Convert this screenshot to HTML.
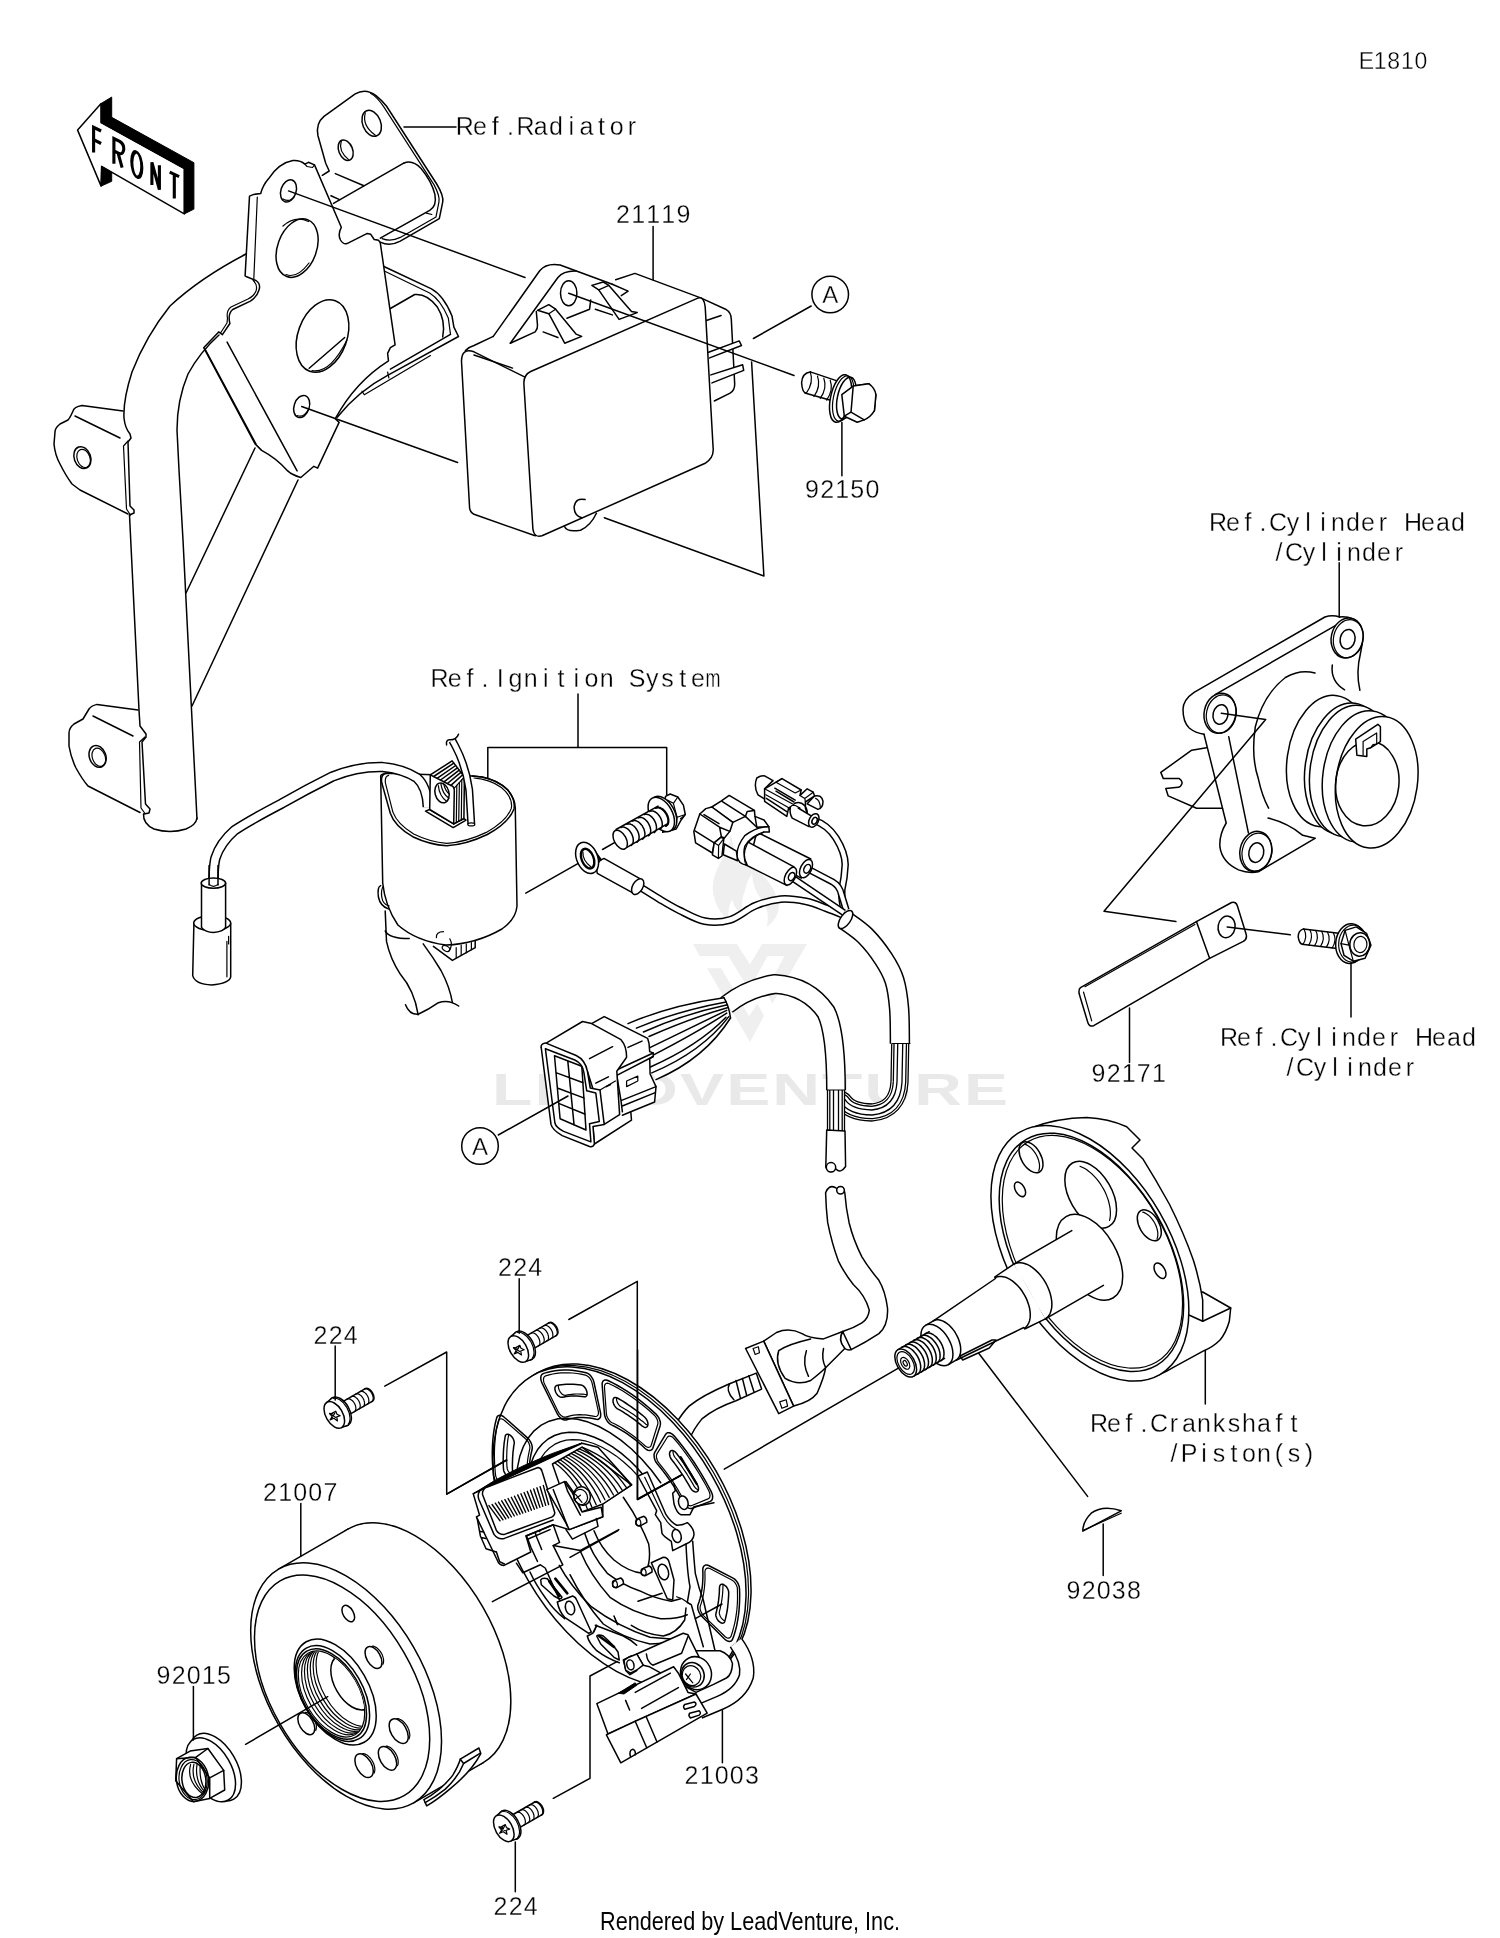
<!DOCTYPE html>
<html><head><meta charset="utf-8"><title>E1810</title>
<style>
html,body{margin:0;padding:0;background:#fff;}
svg{display:block;will-change:transform;}
.l{fill:none;stroke:#000;stroke-width:1.5;stroke-linecap:round;stroke-linejoin:round;}
.lt{fill:none;stroke:#000;stroke-width:1.2;stroke-linecap:round;stroke-linejoin:round;}
.w{fill:#fff;stroke:#000;stroke-width:1.5;stroke-linecap:round;stroke-linejoin:round;}
.wt{fill:#fff;stroke:#000;stroke-width:1.2;stroke-linecap:round;stroke-linejoin:round;}
.k{fill:#000;stroke:#000;stroke-width:1;stroke-linejoin:round;}
.t{font-family:"Liberation Sans",sans-serif;fill:#000;text-anchor:middle;stroke:#fff;stroke-width:0.3px;}
.tb{font-family:"Liberation Sans",sans-serif;fill:#000;}
.wm{fill:#ebebeb;stroke:none;}
</style></head><body>
<svg width="1500" height="1938" viewBox="0 0 1500 1938">
<rect x="0" y="0" width="1500" height="1938" fill="#fff"/>
<g transform="translate(492,1105) scale(1.5,1)"><text x="0" y="0" font-family="Liberation Sans, sans-serif" font-weight="bold" font-size="44" fill="#e9e9e9" textLength="344" lengthAdjust="spacing">LEADVENTURE</text></g>
<path fill="#efefef" d="M693.1,944 L736.9,944 L750,964.5 L762.1,944 L806.9,944 L772.4,1003.7 L765.9,990.7 L784.5,956.1 L767.7,956.1 L749.1,989.7 L728.5,956.1 L699.6,956.1 Z"/>
<path fill="#efefef" d="M707.1,968.3 L721.1,968.3 L749.1,1015.9 L757.5,1003.7 L764,1015.9 L750,1042 Z"/>
<path fill="#efefef" d="M730.7,834.0Q729.3,850.0 720.0,863.3Q710.7,880.7 713.3,894.0Q716.0,910.0 729.3,922.0Q726.7,910.0 732.0,899.3Q734.7,910.0 742.7,915.3Q740.0,902.0 745.3,890.0Q746.7,880.7 752.0,874.0Q753.3,890.0 761.3,899.3Q770.7,910.0 766.7,927.3Q780.0,916.7 778.7,904.7Q776.0,887.3 761.3,874.0Q748.0,860.7 745.3,848.7Q740.0,854.0 734.7,856.7Q733.3,843.3 730.7,834.0Z"/>
<path class="w" d="M77.6,130.1L101.1,103.5L101.1,122.7L184.3,168.5L184.3,213.9L101.6,166.4L101.1,186.1Z"/>
<path class="k" d="M101.1,103.5L111.7,97.1L111.7,117.3L193.9,162.7L193.9,209.1L184.3,213.9L184.3,168.5L101.1,122.7Z"/>
<path class="k" d="M101.6,166.4L111.7,172.3L111.7,181.3L101.1,186.1Z"/>
<path class="l" d="M101.1,131.0L93.6,127.3L93.6,152.5M93.6,139.7L101.1,143.5" style="stroke-width:3.1;stroke-linecap:butt;stroke-linejoin:miter"/>
<path class="l" d="M113.9,163.7L113.9,138.5L119.7,141.4Q124.0,144.0 123.8,149.3Q123.1,154.7 119.2,153.6L113.9,150.9M118.1,153.2L122.1,167.7" style="stroke-width:3.1;stroke-linecap:butt;stroke-linejoin:miter"/>
<ellipse class="l" style="stroke-width:3.1;stroke-linecap:butt;stroke-linejoin:miter" cx="0" cy="0" rx="5" ry="12.4" transform="matrix(1,0.55,0,1,136.8,164.6)"/>
<path class="l" d="M151.9,185.1L151.9,162.3L159.4,189.7L159.4,165.3" style="stroke-width:3.1;stroke-linecap:butt;stroke-linejoin:miter"/>
<path class="l" d="M169.7,172.2L179.1,176.6M174.3,174.3L174.3,198.6" style="stroke-width:3.1;stroke-linecap:butt;stroke-linejoin:miter"/>
<path class="l" d="M322.3,175.3L329.2,171.0L325.7,163.2L317.9,135.5Q315.7,123.3 324.0,116.4L355.2,93.9Q365.6,87.8 376.0,95.6Q382.1,100.5 386.4,106.0L436.7,184.0Q444.0,196.1 442.7,202.2L439.3,218.7L400.3,241.2Q389.9,246.8 380.3,242.1L376.0,239.8"/>
<path class="lt" d="M370.5,93.2Q376.9,96.5 383.8,106.9L434.1,184.9Q440.1,196.1 438.9,202.2L436.0,216.9L400.3,237.4Q390.7,242.1 382.1,238.6"/>
<ellipse class="l" cx="371.7" cy="123.3" rx="9.0" ry="13.5" transform="rotate(-22.0 371.7 123.3)"/>
<path class="lt" d="M365.3,112.9Q361.8,125.4 375.1,135.1"/>
<ellipse class="l" cx="345.7" cy="150.2" rx="6.9" ry="10.7" transform="rotate(-22.0 345.7 150.2)"/>
<path class="lt" d="M341.3,141.0Q337.9,151.1 349.1,160.1"/>
<path class="l" d="M335.3,173.6L363.9,185.7"/>
<path class="l" d="M403.7,163.2L333.5,203.4"/>
<path class="l" d="M330.9,195.8L339.6,199.6"/>
<path class="l" d="M403.7,163.2Q412.4,159.4 421.1,168.4Q431.8,181.4 434.9,194.4Q437.0,206.2 429.7,210.4L380.3,238.1"/>
<path class="lt" d="M426.3,213.1L431.8,214.5"/>
<path class="l" d="M383.9,266.5L431.5,288.9Q443.6,295.5 452.0,316.0L453.9,327.2L458.5,336.5L387.6,375.4Q358.7,390.7 337.2,417.2"/>
<path class="lt" d="M384.8,271.2L429.6,293.0Q440.4,299.6 448.3,317.9L450.5,334.3"/>
<path class="l" d="M390.4,308.5L414.7,294.5Q426.8,293.2 437.1,306.7Q446.0,320.7 442.7,336.9"/>
<path class="l" d="M450.5,334.3L390.4,369.2"/>
<path class="lt" d="M430.5,355.6L364.3,394.8L362.0,391.2"/>
<path class="lt" d="M387.6,372.0L388.9,378.0"/>
<path class="w" d="M249.5,196.1L253.8,194.4L260.7,193.5Q263.0,185.0 268.5,178.8Q279.0,163.0 292.8,160.6Q300.0,160.0 304.9,164.1L308.4,162.3L314.5,164.9L341.3,227.3Q337.5,234.3 340.5,240.0Q343.0,244.5 347.0,243.6L367.3,233.4L370.8,234.3L374.2,239.5L378.6,240.3L380.3,242.9L395.1,344.9L390.4,347.7L387.6,353.3L388.5,360.8Q355.0,382.0 335.3,418.7L339.1,422.4L317.6,468.1L313.9,466.3L300.8,477.5Q292.0,475.0 287.7,470.9Q276.0,458.0 261.6,450.4L255.1,443.9L203.7,347.7L218.7,331.9L222.4,334.7L229.9,323.5Q227.5,314.0 232.7,309.5L250.4,301.1Q257.0,297.0 259.0,290.0Q261.0,284.0 256.0,280.5L246.7,276.8L245.1,275.9Z"/>
<path class="lt" d="M257.3,197.0L253.8,279.3"/>
<path class="lt" d="M304.9,164.1L307.0,166.5L312.5,167.5L314.5,164.9"/>
<path class="lt" d="M253.0,280.0Q258.0,285.0 256.0,291.0Q254.0,296.0 248.0,299.0L231.0,307.0Q226.0,311.0 227.5,318.0L227.0,323.0L220.5,333.0"/>
<path class="l" d="M227.1,342.1L297.1,470.9"/>
<ellipse class="l" cx="288.5" cy="190.9" rx="7.6" ry="11.4" transform="rotate(18.0 288.5 190.9)"/>
<path class="lt" d="M283.0,199.0Q290.0,203.0 294.5,196.0"/>
<ellipse class="l" cx="297.1" cy="248.1" rx="19.5" ry="30.3" transform="rotate(20.0 297.1 248.1)"/>
<path class="lt" d="M283.0,226.0Q295.0,215.0 308.5,221.5"/>
<path class="lt" d="M286.0,274.5Q297.0,279.0 309.0,263.0"/>
<ellipse class="l" cx="322.5" cy="336.0" rx="24.5" ry="37.5" transform="rotate(20.0 322.5 336.0)"/>
<path class="l" d="M309.2,368.3L344.7,337.5"/>
<path class="lt" d="M312.0,370.5Q330.0,374.0 347.0,340.0"/>
<ellipse class="l" cx="301.7" cy="406.5" rx="7.6" ry="11.4" transform="rotate(18.0 301.7 406.5)"/>
<path class="lt" d="M297.0,415.5Q304.0,418.0 308.0,410.0"/>
<path class="l" d="M246.0,254.0Q200.0,278.0 170.0,306.0Q146.0,336.0 132.0,372.0Q123.0,400.0 124.0,418.0Q125.0,428.0 130.0,434.0L131.0,438.0L128.0,442.0L130.0,506.0L134.0,510.0L134.0,513.0L129.5,515.0"/>
<path class="lt" d="M128.0,441.0L123.5,446.0L126.5,509.0L130.5,515.0"/>
<path class="l" d="M129.5,515.0L139.0,710.0L140.0,726.0L146.0,734.0L146.0,737.0L142.0,742.0L145.5,804.0L150.0,809.0L149.0,813.0L144.0,814.0"/>
<path class="lt" d="M145.0,737.0L139.5,742.0L141.0,808.0L145.0,813.5"/>
<path class="l" d="M143.5,814.0Q143.0,824.0 154.0,829.0Q170.0,834.0 186.0,829.0Q196.0,825.0 197.0,818.0"/>
<path class="l" d="M197.0,819.0L183.0,540.0L179.0,470.0L177.0,430.0Q177.0,400.0 188.0,374.0Q200.0,352.0 219.0,335.0"/>
<path class="l" d="M123.0,411.0L82.0,405.6Q74.0,407.0 73.0,411.0Q70.0,418.0 68.0,420.0L60.0,424.0Q55.0,428.0 55.0,432.0L54.0,444.0Q55.0,455.0 60.0,464.0Q66.0,476.0 72.0,484.0L80.0,490.0L128.0,514.0"/>
<path class="l" d="M75.0,416.0L120.0,438.0"/>
<ellipse class="l" cx="82.4" cy="457.6" rx="8.2" ry="11.2" transform="rotate(-20.0 82.4 457.6)"/>
<ellipse class="lt" cx="83.6" cy="458.4" rx="6.4" ry="9.4" transform="rotate(-20.0 83.6 458.4)"/>
<path class="l" d="M138.0,710.0L97.0,704.4Q91.0,706.0 89.0,709.0L83.0,719.0L74.0,724.0Q69.0,728.0 69.0,733.0L69.0,746.0Q71.0,758.0 76.0,768.0Q82.0,779.0 88.0,786.0L140.0,812.5"/>
<path class="l" d="M93.0,716.0L133.0,736.0"/>
<ellipse class="l" cx="97.6" cy="756.4" rx="8.2" ry="11.2" transform="rotate(-20.0 97.6 756.4)"/>
<ellipse class="lt" cx="98.8" cy="757.2" rx="6.4" ry="9.4" transform="rotate(-20.0 98.8 757.2)"/>
<path class="l" d="M205.0,349.0L256.0,444.0"/>
<path class="l" d="M255.0,448.0L186.0,593.0"/>
<path class="l" d="M298.0,480.0L192.0,706.0"/>
<path class="l" d="M288.5,190.9L525.0,277.5"/>
<path class="l" d="M301.7,406.5L457.6,462.5"/>
<path class="l" d="M404.0,127.0L456.0,127.0"/>
<path class="l" d="M700.7,297.9L725.6,309.2Q731.3,312.6 731.3,319.4L734.7,384.0Q734.7,390.8 730.1,393.1L714.3,401.0"/>
<path class="l" d="M706.3,320.5L721.1,315.5"/>
<path class="w" d="M708.6,352.3L739.2,340.9L741.5,345.5L709.7,357.9"/>
<path class="w" d="M710.9,374.9L742.6,364.7L743.7,370.4L712.0,382.9"/>
<path class="l" d="M615.7,279.7L634.9,273.4L700.7,297.9"/>
<path class="l" d="M493.3,336.4L539.7,270.7Q546.5,262.7 560.1,265.0L612.3,284.3"/>
<path class="l" d="M510.3,343.2L557.9,277.5Q563.5,270.7 576.0,271.1"/>
<path class="l" d="M510.3,343.2L535.2,331.9Q537.9,328.5 537.5,325.1L536.3,311.5"/>
<ellipse class="l" cx="568.7" cy="293.3" rx="8.2" ry="12.5" transform="rotate(0.0 568.7 293.3)"/>
<path class="l" d="M537.5,310.3L548.8,304.7L555.6,309.2L576.0,334.1L581.7,336.4L564.7,343.2L548.8,313.7L537.5,310.3"/>
<path class="lt" d="M548.8,313.7L555.6,309.2"/>
<path class="l" d="M543.1,331.9L557.9,337.5"/>
<path class="l" d="M566.9,318.3L589.6,309.2L590.7,300.1"/>
<path class="l" d="M591.9,285.4L603.2,282.0L608.9,285.4L631.5,311.5L637.2,312.6L619.1,319.4L598.7,289.9L591.9,285.4"/>
<path class="lt" d="M598.7,289.9L608.9,285.4"/>
<path class="l" d="M612.3,284.3L628.1,291.1L621.3,295.6"/>
<path class="l" d="M595.3,309.2L612.3,314.9"/>
<path class="l" d="M525.0,377.2L474.0,351.8Q461.5,347.7 461.5,361.3L469.5,506.4Q469.5,512.0 474.0,514.3L535.2,535.8"/>
<path class="l" d="M465.4,350.4Q468.3,347.3 474.0,345.5L493.3,336.4"/>
<path class="l" d="M474.0,355.0L512.5,368.1"/>
<path class="w" d="M530.7,371.5L698.4,297.9Q704.1,296.7 705.2,306.9L713.1,447.5Q714.3,457.7 705.2,463.3L542.0,535.8Q534.1,538.1 532.9,529.0L523.9,384.0Q523.4,374.9 530.7,371.5Z"/>
<path class="l" d="M585.1,499.6Q576.0,497.3 574.2,506.4Q573.7,515.4 581.7,517.7"/>
<path class="l" d="M564.7,526.8Q566.9,532.4 580.5,530.2Q590.7,525.6 596.4,513.2"/>
<path class="l" d="M653.1,226.5L653.1,279.7"/>
<path class="l" d="M568.7,293.3L794.0,375.5"/>
<path class="l" d="M604.3,517.7L763.9,576.0L751.6,362.0"/>
<path class="l" d="M811.2,306.0L753.4,338.5"/>
<circle class="l" cx="830.2" cy="294.5" r="18.3"/>
<path class="l" d="M810.3,371.9L835.6,380.4M804.9,393.0L830.5,400.3"/>
<path class="l" d="M810.3,371.9Q802.2,372.8 801.6,382.7Q802.2,392.7 806.3,393.2"/>
<path class="lt" d="M810.3,371.9Q813.9,382.7 806.3,393.2"/>
<path class="lt" d="M817.5,376.1Q821.1,386.4 813.9,396.5"/>
<path class="lt" d="M823.8,378.2Q827.5,388.3 820.2,398.3"/>
<path class="lt" d="M830.2,380.2Q833.8,390.1 826.6,400.1"/>
<ellipse class="w" cx="840.6" cy="398.5" rx="10.1" ry="24.2" transform="rotate(12.0 840.6 398.5)"/>
<ellipse class="lt" cx="843.2" cy="398.5" rx="9.8" ry="23.1" transform="rotate(12.0 843.2 398.5)"/>
<ellipse class="l" cx="846.4" cy="398.1" rx="9.0" ry="21.3" transform="rotate(12.0 846.4 398.1)"/>
<path class="w" d="M841.8,394.7L853.2,386.1L868.8,383.7L875.9,394.7L874.4,410.7L864.2,419.9L857.2,422.3L844.3,416.2Z"/>
<path class="w" d="M853.2,386.1L868.8,383.7Q875.0,388.2 875.9,394.7L874.4,410.7Q870.8,417.1 864.2,419.9L851.0,412.2Z"/>
<path class="l" d="M844.3,416.2L851.0,412.2"/>
<path class="l" d="M841.9,422.5L841.9,475.8"/>
<path class="l" d="M1206.5,747.8L1191.7,750.2L1160.8,772.4L1163.3,778.6L1179.3,778.6Q1183.0,781.1 1181.8,784.0Q1180.6,787.2 1178.1,787.2L1165.8,788.5L1168.2,795.9L1196.6,808.2L1222.5,808.2"/>
<path class="l" d="M1339.7,617.0Q1332.3,614.6 1324.9,617.0L1194.1,692.3Q1183.0,699.7 1183.0,709.5Q1183.0,721.9 1189.2,728.0Q1195.4,733.0 1204.0,734.2"/>
<path class="l" d="M1339.7,623.2L1215.1,694.7"/>
<path class="l" d="M1204.0,734.2L1226.2,823.0Q1218.8,835.3 1220.0,847.7Q1222.5,862.5 1238.5,869.9Q1248.4,873.6 1258.3,871.8L1315.0,838.3"/>
<path class="l" d="M1228.7,736.7L1248.4,832.9"/>
<path class="l" d="M1315.0,673.0Q1300.2,668.8 1285.4,677.5Q1263.2,694.7 1255.3,726.8Q1250.9,756.4 1258.3,778.6Q1262.0,795.9 1268.6,808.2"/>
<path class="l" d="M1268.1,818.1Q1287.9,823.0 1302.7,835.3L1315.0,838.3"/>
<path class="l" d="M1332.3,665.1Q1330.3,681.2 1344.6,689.8"/>
<path class="l" d="M1339.7,617.0Q1353.2,615.8 1360.6,625.7Q1364.3,635.5 1360.6,652.8Q1355.7,672.5 1359.9,690.3"/>
<ellipse class="w" cx="1347.1" cy="638.0" rx="15.8" ry="20.2" transform="rotate(12.0 1347.1 638.0)"/>
<ellipse class="lt" cx="1348.3" cy="638.7" rx="14.8" ry="19.2" transform="rotate(12.0 1348.3 638.7)"/>
<ellipse class="l" cx="1347.6" cy="639.2" rx="7.4" ry="9.9" transform="rotate(12.0 1347.6 639.2)"/>
<ellipse class="w" cx="1220.0" cy="713.2" rx="15.8" ry="20.2" transform="rotate(12.0 1220.0 713.2)"/>
<ellipse class="lt" cx="1221.3" cy="714.0" rx="14.8" ry="19.2" transform="rotate(12.0 1221.3 714.0)"/>
<ellipse class="l" cx="1220.5" cy="714.5" rx="7.4" ry="9.9" transform="rotate(12.0 1220.5 714.5)"/>
<ellipse class="w" cx="1255.8" cy="851.4" rx="15.8" ry="20.2" transform="rotate(12.0 1255.8 851.4)"/>
<ellipse class="lt" cx="1257.0" cy="852.1" rx="14.8" ry="19.2" transform="rotate(12.0 1257.0 852.1)"/>
<ellipse class="l" cx="1256.3" cy="852.6" rx="7.4" ry="9.9" transform="rotate(12.0 1256.3 852.6)"/>
<ellipse class="w" cx="1327.8" cy="761.1" rx="40.7" ry="66.1" transform="rotate(8.0 1327.8 761.1)"/>
<ellipse class="w" cx="1345.8" cy="768.7" rx="40.7" ry="66.1" transform="rotate(8.0 1345.8 768.7)"/>
<ellipse class="w" cx="1350.8" cy="771.0" rx="40.7" ry="66.1" transform="rotate(8.0 1350.8 771.0)"/>
<ellipse class="w" cx="1363.6" cy="776.4" rx="40.7" ry="66.1" transform="rotate(8.0 1363.6 776.4)"/>
<ellipse class="w" cx="1376.7" cy="782.3" rx="40.7" ry="66.1" transform="rotate(8.0 1376.7 782.3)"/>
<ellipse class="l" cx="1367.3" cy="783.5" rx="31.6" ry="42.4" transform="rotate(6.0 1367.3 783.5)"/>
<path class="w" d="M1355.7,739.1L1377.9,724.3L1380.4,726.8L1380.4,741.6L1370.5,747.8L1366.8,749.0L1366.8,756.4L1356.9,755.2Z"/>
<path class="lt" d="M1363.1,741.6L1376.7,733.0M1363.1,741.6L1363.1,755.2M1370.5,747.8L1373.0,744.6L1376.7,744.1L1376.7,733.0"/>
<path class="l" d="M1339.2,562.8L1339.2,617.0"/>
<path class="l" d="M1221.3,713.2L1265.7,719.4L1104.0,911.3L1175.9,921.6"/>
<path class="w" d="M1080.5,987.6L1196.4,921.6L1231.6,902.5Q1236.0,901.1 1237.5,906.3L1246.3,934.8Q1247.2,939.2 1243.3,941.3L1209.6,958.3L1093.7,1025.7Q1089.3,1027.2 1087.9,1022.8L1079.1,993.5Q1078.5,989.1 1080.5,987.6Z"/>
<path class="l" d="M1196.4,921.6L1209.6,958.3"/>
<path class="lt" d="M1084.9,986.7L1194.9,924.5M1083.5,992.0L1091.7,1020.8"/>
<ellipse class="l" cx="1226.6" cy="926.9" rx="8.5" ry="10.9" transform="rotate(10.0 1226.6 926.9)"/>
<path class="l" d="M1227.2,926.9L1290.3,934.8"/>
<path class="l" d="M1129.5,1008.1L1129.5,1062.4"/>
<path class="l" d="M1303.5,928.9L1338.7,933.3M1302.0,944.2L1337.2,948.6"/>
<path class="l" d="M1303.5,928.9Q1298.2,930.4 1298.2,936.9Q1299.1,943.6 1302.3,944.2"/>
<path class="lt" d="M1304.1,929.2Q1307.9,936.9 1302.9,944.5"/>
<path class="lt" d="M1309.9,929.8Q1313.7,937.4 1308.8,945.1"/>
<path class="lt" d="M1315.8,930.4Q1319.6,938.0 1314.6,945.7"/>
<path class="lt" d="M1321.7,931.3Q1325.5,938.9 1320.5,946.5"/>
<path class="lt" d="M1327.5,931.9Q1331.3,939.5 1326.4,947.1"/>
<path class="lt" d="M1333.4,932.7Q1337.2,940.4 1332.2,948.0"/>
<ellipse class="w" cx="1350.4" cy="943.6" rx="14.7" ry="19.9" transform="rotate(5.0 1350.4 943.6)"/>
<ellipse class="lt" cx="1352.8" cy="943.6" rx="14.1" ry="18.5" transform="rotate(5.0 1352.8 943.6)"/>
<path class="w" d="M1341.0,943.6L1345.1,930.4L1356.3,926.9L1366.5,933.3L1370.9,945.1L1365.1,958.3L1353.3,961.2L1344.0,955.3Z"/>
<ellipse class="l" cx="1359.8" cy="944.5" rx="10.0" ry="11.7" transform="rotate(5.0 1359.8 944.5)"/>
<ellipse class="lt" cx="1360.4" cy="944.5" rx="6.5" ry="8.2" transform="rotate(5.0 1360.4 944.5)"/>
<path class="lt" d="M1341.0,943.6L1348.9,945.1L1345.1,930.4M1348.9,945.1L1353.3,961.2"/>
<path class="l" d="M1351.0,962.7L1351.0,1016.9"/>
<path class="l" d="M578.0,694.0L578.0,747.4M487.8,779.0L487.8,747.4L666.7,747.4L666.7,795.0"/>
<path class="l" d="M385.2,911.0L386.5,941.4Q390.3,959.1 400.4,974.3Q414.4,990.8 418.2,1014.8"/>
<path class="l" d="M423.2,943.9Q433.4,957.8 441.0,970.5Q449.8,987.0 452.4,1002.7"/>
<path class="l" d="M405.5,1004.7Q409.3,1014.8 418.2,1014.3Q428.3,1009.8 438.4,1002.7Q448.6,999.1 458.7,1006.0"/>
<path class="l" d="M385.2,930.8Q389.0,938.5 409.2,938.6"/>
<path class="w" d="M433.4,946.4L452.4,960.4L475.2,947.7L475.2,941.4"/>
<path class="lt" d="M456.2,957.8L456.2,947.7M461.2,955.3L461.2,945.2M466.3,952.8L466.3,943.9M471.4,949.7L471.4,942.6"/>
<path class="w" d="M380.7,776.9L382.7,883.0Q385.0,906.0 397.9,925.0Q416.0,941.0 445.9,945.0Q476.0,944.0 501.9,929.0Q516.0,919.0 517.0,906.0L515.3,808.9Q515.6,799.3 507.6,789.7Q498.0,780.1 482.0,776.9L472.4,775.9L386.0,773.2Q380.1,774.3 380.7,776.9Z"/>
<path class="l" d="M386.0,773.2Q380.1,774.8 381.9,783.3L390.3,813.2Q394.5,826.0 412.7,836.7Q429.7,844.7 446.8,845.7Q466.0,844.7 487.3,834.5Q508.7,822.8 514.0,808.9Q515.6,799.3 507.6,789.7Q498.0,780.1 482.0,776.9L472.4,775.9"/>
<path class="lt" d="M388.7,775.3Q384.4,776.4 385.5,783.3L392.9,812.1Q397.2,823.9 413.7,834.0Q429.7,842.0 446.8,843.3Q466.0,842.2 486.3,832.4Q506.5,821.2 511.3,808.4Q512.9,799.9 505.5,791.3Q496.9,782.3 482.0,779.1L474.0,778.0"/>
<path class="l" d="M380.7,885.6Q377.1,886.9 378.4,897.0Q380.2,905.9 388.3,908.9"/>
<path class="lt" d="M382.7,886.9Q380.2,893.2 382.7,900.8Q385.2,905.4 389.0,905.9"/>
<path class="lt" d="M443.5,931.7Q435.9,931.7 436.4,937.6"/>
<ellipse class="lt" cx="446.0" cy="948.5" rx="4.1" ry="2.5" transform="rotate(30.0 446.0 948.5)"/>
<path class="lt" d="M449.8,938.8Q453.6,945.2 448.6,951.5"/>
<path d="M427.8,807.1Q427.0,786.8 416.9,777.9Q403.0,769.1 382.7,767.1Q357.3,766.5 332.0,776.7Q306.7,789.3 281.3,803.8Q248.4,821.0 234.5,830.4Q220.5,842.6 215.5,857.8Q213.4,865.4 213.4,888.2" fill="none" stroke="#000" stroke-width="10.5" stroke-linecap="butt" stroke-linejoin="round"/><path d="M427.8,807.1Q427.0,786.8 416.9,777.9Q403.0,769.1 382.7,767.1Q357.3,766.5 332.0,776.7Q306.7,789.3 281.3,803.8Q248.4,821.0 234.5,830.4Q220.5,842.6 215.5,857.8Q213.4,865.4 213.4,888.2" fill="none" stroke="#fff" stroke-width="7.5" stroke-linecap="butt" stroke-linejoin="round"/>
<path class="w" d="M193.9,923.6L192.7,975.6Q195.2,984.4 211.7,984.9Q229.4,983.2 230.7,976.8L230.7,923.6Z"/>
<ellipse class="w" cx="212.2" cy="923.1" rx="18.5" ry="7.6" transform="rotate(0.0 212.2 923.1)"/>
<path class="w" d="M201.5,883.6L201.5,927.4Q205.3,932.5 213.4,932.5Q223.1,931.7 225.6,927.4L225.6,883.1Z"/>
<ellipse class="w" cx="213.4" cy="883.1" rx="12.2" ry="5.1" transform="rotate(0.0 213.4 883.1)"/>
<path class="lt" d="M209.1,884.4Q213.4,888.2 218.0,884.4"/>
<path class="lt" d="M226.9,941.4L226.9,976.8M228.6,936.3L228.6,943.9"/>
<path class="l" d="M209.1,865.4L209.1,885.1M218.0,865.4L218.0,885.1"/>
<path class="w" d="M425.5,811.1L429.7,809.5L453.7,823.9L463.9,818.5L466.0,820.1L453.2,827.6Z"/>
<path class="w" d="M430.3,774.8L452.1,760.9L464.4,776.9L463.9,818.5L453.7,823.9L429.7,809.5Z"/>
<path class="l" d="M430.3,774.8L451.1,785.5Q454.3,786.5 454.3,790.8L453.7,823.9"/>
<path class="lt" d="M454.3,788.1L464.4,776.9"/>
<path class="l" d="M433.7,776.5L453.8,763.2"/>
<path class="l" d="M437.1,778.3L455.7,765.5"/>
<path class="l" d="M440.5,780.0L457.4,767.8"/>
<path class="l" d="M444.0,781.8L459.2,770.1"/>
<path class="l" d="M447.4,783.5L460.9,772.3"/>
<path class="l" d="M450.9,785.4L462.7,774.7"/>
<path class="lt" d="M456.8,785.4L456.3,822.6"/>
<path class="lt" d="M459.4,782.5L458.7,821.2"/>
<path class="lt" d="M461.8,779.7L461.3,819.8"/>
<ellipse class="l" cx="442.0" cy="792.9" rx="6.9" ry="10.1" transform="rotate(-15.0 442.0 792.9)"/>
<path class="lt" d="M438.3,785.5Q439.3,796.1 446.8,801.5M440.9,783.9Q442.5,794.0 448.9,798.3M443.6,783.9Q445.7,791.9 449.5,794.0"/>
<path d="M471.3,823.9L469.2,789.7Q466.0,766.3 455.3,746.0L452.3,740.5" fill="none" stroke="#000" stroke-width="8.0" stroke-linecap="butt" stroke-linejoin="round"/><path d="M471.3,823.9L469.2,789.7Q466.0,766.3 455.3,746.0L452.3,740.5" fill="none" stroke="#fff" stroke-width="5.0" stroke-linecap="butt" stroke-linejoin="round"/>
<path class="l" d="M446.6,744.9Q445.7,740.1 449.5,739.8Q456.4,740.1 458.5,734.3"/>
<ellipse class="wt" cx="471.3" cy="824.4" rx="3.5" ry="1.5" transform="rotate(0.0 471.3 824.4)"/>
<path class="l" d="M525.8,893.2L588.0,857.9"/>
<path d="M637.5,885.5C641.1,887.7 652.1,894.7 659.1,898.9C666.0,903.0 671.7,906.6 679.3,910.3C686.9,914.0 696.2,919.6 704.7,921.2C713.1,922.8 721.6,922.5 730.0,919.9C738.5,917.3 746.9,909.2 755.4,905.7C763.8,902.3 772.2,899.9 780.7,899.1C789.1,898.4 798.4,899.9 806.0,901.4C813.6,902.9 820.0,905.9 826.3,908.3C832.6,910.6 841.1,914.2 844.0,915.4" fill="none" stroke="#000" stroke-width="7.8" stroke-linecap="butt" stroke-linejoin="round"/><path d="M637.5,885.5C641.1,887.7 652.1,894.7 659.1,898.9C666.0,903.0 671.7,906.6 679.3,910.3C686.9,914.0 696.2,919.6 704.7,921.2C713.1,922.8 721.6,922.5 730.0,919.9C738.5,917.3 746.9,909.2 755.4,905.7C763.8,902.3 772.2,899.9 780.7,899.1C789.1,898.4 798.4,899.9 806.0,901.4C813.6,902.9 820.0,905.9 826.3,908.3C832.6,910.6 841.1,914.2 844.0,915.4" fill="none" stroke="#fff" stroke-width="4.8" stroke-linecap="butt" stroke-linejoin="round"/>
<path class="w" d="M603.9,858.4L642.1,879.9L633.7,893.4L597.3,873.3Q595.9,868.7 598.3,862.6Q600.1,859.3 603.9,858.4Z"/>
<ellipse class="w" cx="637.7" cy="886.6" rx="5.1" ry="8.6" transform="rotate(30.0 637.7 886.6)"/>
<path class="l" d="M592.7,849.1L600.6,859.8" style="stroke-width:2.6"/>
<ellipse class="w" cx="587.1" cy="857.9" rx="10.5" ry="16.3" transform="rotate(-22.0 587.1 857.9)"/>
<ellipse class="w" cx="587.6" cy="858.6" rx="6.0" ry="10.3" transform="rotate(-22.0 587.6 858.6)" style="stroke-width:2.4"/>
<path class="lt" d="M582.9,851.9Q582.4,860.3 590.8,866.8"/>
<path class="l" d="M602.5,849.5L619.7,839.7"/>
<path class="w" d="M665.5,796.3L670.1,794.0L677.8,797.0L683.4,805.2L685.3,814.5L681.3,819.7L676.2,829.0L662.7,832.3Z"/>
<path class="lt" d="M677.8,797.0L673.4,803.3L677.1,817.3L685.3,814.5M673.4,803.3L667.3,800.1M677.1,817.3L675.3,827.6M680.4,818.7L683.4,816.4"/>
<ellipse class="w" cx="663.6" cy="813.4" rx="11.0" ry="18.7" transform="rotate(-29.0 663.6 813.4)"/>
<ellipse class="w" cx="661.3" cy="814.5" rx="11.0" ry="18.7" transform="rotate(-29.0 661.3 814.5)"/>
<path class="w" d="M616.0,829.5L658.0,806.1L667.3,823.9L623.5,849.1Z" style="stroke:none"/>
<path class="l" d="M616.0,829.5L658.0,806.1M623.5,849.3L667.3,823.9"/>
<path class="l" d="M621.0,827.5 L621.8,827.2 L622.6,827.1 L623.5,827.1 L624.4,827.2 L625.3,827.6 L626.3,828.1 L627.2,828.7 L628.2,829.4 L629.1,830.3 L629.9,831.3 L630.7,832.4 L631.4,833.5 L632.0,834.7 L632.5,836.0 L632.9,837.2 L633.1,838.4 L633.3,839.6 L633.3,840.8 L633.2,841.8 L633.0,842.8 L632.6,843.7 L632.2,844.4 L631.6,845.0 L631.0,845.5"/>
<path class="l" d="M626.8,824.3 L627.5,824.0 L628.4,823.8 L629.2,823.9 L630.2,824.0 L631.1,824.4 L632.1,824.8 L633.0,825.5 L634.0,826.2 L634.8,827.1 L635.7,828.1 L636.5,829.2 L637.2,830.3 L637.8,831.5 L638.3,832.7 L638.7,834.0 L638.9,835.2 L639.1,836.4 L639.1,837.5 L639.0,838.6 L638.8,839.6 L638.4,840.4 L638.0,841.2 L637.4,841.8 L636.8,842.3"/>
<path class="l" d="M632.6,821.1 L633.3,820.8 L634.1,820.6 L635.0,820.6 L635.9,820.8 L636.9,821.1 L637.9,821.6 L638.8,822.2 L639.7,823.0 L640.6,823.9 L641.5,824.9 L642.3,825.9 L642.9,827.1 L643.6,828.3 L644.1,829.5 L644.4,830.8 L644.7,832.0 L644.9,833.2 L644.9,834.3 L644.8,835.4 L644.6,836.4 L644.2,837.2 L643.8,838.0 L643.2,838.6 L642.5,839.1"/>
<path class="l" d="M638.4,817.9 L639.1,817.6 L639.9,817.4 L640.8,817.4 L641.7,817.6 L642.7,817.9 L643.6,818.4 L644.6,819.0 L645.5,819.8 L646.4,820.7 L647.3,821.6 L648.0,822.7 L648.7,823.9 L649.3,825.1 L649.8,826.3 L650.2,827.5 L650.5,828.8 L650.7,830.0 L650.7,831.1 L650.6,832.2 L650.4,833.1 L650.0,834.0 L649.6,834.8 L649.0,835.4 L648.3,835.8"/>
<path class="l" d="M644.2,814.7 L644.9,814.3 L645.7,814.2 L646.6,814.2 L647.5,814.4 L648.5,814.7 L649.4,815.2 L650.4,815.8 L651.3,816.6 L652.2,817.4 L653.1,818.4 L653.8,819.5 L654.5,820.6 L655.1,821.8 L655.6,823.1 L656.0,824.3 L656.3,825.5 L656.4,826.7 L656.5,827.9 L656.4,828.9 L656.1,829.9 L655.8,830.8 L655.3,831.5 L654.8,832.1 L654.1,832.6"/>
<path class="l" d="M649.9,811.4 L650.7,811.1 L651.5,811.0 L652.4,811.0 L653.3,811.1 L654.3,811.5 L655.2,812.0 L656.2,812.6 L657.1,813.3 L658.0,814.2 L658.8,815.2 L659.6,816.3 L660.3,817.4 L660.9,818.6 L661.4,819.9 L661.8,821.1 L662.1,822.3 L662.2,823.5 L662.3,824.7 L662.2,825.7 L661.9,826.7 L661.6,827.6 L661.1,828.3 L660.6,828.9 L659.9,829.4"/>
<path class="l" d="M655.7,808.2 L656.5,807.9 L657.3,807.7 L658.2,807.8 L659.1,807.9 L660.0,808.3 L661.0,808.7 L662.0,809.4 L662.9,810.1 L663.8,811.0 L664.6,812.0 L665.4,813.1 L666.1,814.2 L666.7,815.4 L667.2,816.6 L667.6,817.9 L667.9,819.1 L668.0,820.3 L668.0,821.4 L667.9,822.5 L667.7,823.5 L667.4,824.3 L666.9,825.1 L666.3,825.7 L665.7,826.2"/>
<ellipse class="w" cx="620.2" cy="839.7" rx="6.0" ry="10.3" transform="rotate(-29.0 620.2 839.7)"/>
<path class="l" d="M656.2,807.7 L657.0,807.4 L657.8,807.2 L658.7,807.3 L659.6,807.4 L660.6,807.8 L661.6,808.3 L662.5,808.9 L663.5,809.7 L664.4,810.6 L665.3,811.6 L666.0,812.7 L666.8,813.8 L667.4,815.0 L667.9,816.3 L668.3,817.6 L668.6,818.8 L668.7,820.0 L668.7,821.2 L668.6,822.3 L668.4,823.3 L668.1,824.2 L667.6,824.9 L667.0,825.5 L666.3,826.0"/>
<path d="M813.2,820.0Q827.6,824.8 836.0,838.0Q845.0,852.4 845.2,864.6Q844.6,877.6 841.8,890.0Q841.4,901.6 844.4,910.6" fill="none" stroke="#000" stroke-width="7.5" stroke-linecap="butt" stroke-linejoin="round"/><path d="M813.2,820.0Q827.6,824.8 836.0,838.0Q845.0,852.4 845.2,864.6Q844.6,877.6 841.8,890.0Q841.4,901.6 844.4,910.6" fill="none" stroke="#fff" stroke-width="4.5" stroke-linecap="butt" stroke-linejoin="round"/>
<path d="M807.2,868.6L832.4,881.8Q839.6,886.0 841.4,894.4L846.2,910.0" fill="none" stroke="#000" stroke-width="7.1" stroke-linecap="butt" stroke-linejoin="round"/><path d="M807.2,868.6L832.4,881.8Q839.6,886.0 841.4,894.4L846.2,910.0" fill="none" stroke="#fff" stroke-width="4.1" stroke-linecap="butt" stroke-linejoin="round"/>
<path d="M791.0,877.0L843.8,912.6" fill="none" stroke="#000" stroke-width="7.1" stroke-linecap="butt" stroke-linejoin="round"/><path d="M791.0,877.0L843.8,912.6" fill="none" stroke="#fff" stroke-width="4.1" stroke-linecap="butt" stroke-linejoin="round"/>
<path class="w" d="M756.8,832.0L810.8,859.0L801.2,878.2L752.0,851.2Z"/>
<ellipse class="w" cx="806.0" cy="868.6" rx="5.4" ry="9.8" transform="rotate(27.0 806.0 868.6)"/>
<ellipse class="w" cx="807.2" cy="868.8" rx="3.1" ry="4.6" transform="rotate(27.0 807.2 868.8)"/>
<path class="w" d="M744.8,840.4L794.0,866.8L786.8,885.4L740.0,862.0Z"/>
<ellipse class="w" cx="790.4" cy="876.2" rx="5.0" ry="9.6" transform="rotate(27.0 790.4 876.2)"/>
<ellipse class="w" cx="791.6" cy="876.6" rx="2.9" ry="4.3" transform="rotate(27.0 791.6 876.6)"/>
<path class="w" d="M769.4,832.0L768.8,826.6Q756.8,826.6 744.8,835.6Q736.4,846.4 737.0,856.0Q738.2,864.4 747.2,865.0Q742.4,856.0 744.8,846.4Q749.6,836.8 764.0,832.0Z"/>
<path class="lt" d="M764.0,832.0Q752.0,836.8 747.2,844.0Q742.4,853.6 745.4,863.2"/>
<path class="w" d="M724.4,844.0L736.4,851.2L737.6,860.8L723.2,854.8Z"/>
<path class="w" d="M721.4,800.8L729.2,795.4L754.4,810.4L755.0,816.4L764.0,820.0L768.8,826.6L756.8,827.2L745.4,816.4L732.8,822.4L711.8,807.0Z"/>
<path class="l" d="M745.4,816.4L747.2,811.6L754.4,810.4M722.0,801.4L745.4,816.4M755.0,816.4L756.8,827.2"/>
<path class="w" d="M693.8,831.4L699.8,814.0L705.8,808.6L711.8,807.0L732.8,822.4L729.8,831.4L724.4,838.0L721.4,836.8L714.2,842.8L712.4,853.0L695.6,842.8Z"/>
<path class="l" d="M699.8,814.0L719.6,827.2L729.8,831.4M719.6,827.2L721.4,836.8M704.0,814.6L719.0,823.6M695.0,830.8L714.2,842.8"/>
<path class="w" d="M714.2,842.8L720.8,837.4L723.8,838.6L722.0,856.0L718.4,858.4L712.4,854.8Z"/>
<path class="lt" d="M714.2,842.8L718.6,845.4L718.4,858.4M718.6,845.4L723.8,838.6"/>
<path class="w" d="M756.8,778.0Q762.8,774.2 766.4,776.8L773.0,780.6L764.6,788.8L766.4,800.2L758.0,794.8Q753.4,786.4 756.8,778.0Z"/>
<path class="w" d="M814.4,796.0Q821.6,794.2 823.0,801.4Q823.0,808.0 818.0,809.4L807.2,803.8Z"/>
<path class="lt" d="M815.6,798.4Q819.8,799.6 820.4,808.0"/>
<path class="w" d="M764.6,788.8L782.0,778.6L801.2,790.0L800.0,795.4L807.2,788.8L813.2,792.2L814.6,796.0L805.4,802.0L805.4,808.0L807.8,815.8L803.6,817.6L795.2,812.8L788.6,808.0L786.8,816.4L764.6,801.4Z"/>
<path class="lt" d="M800.0,795.4L804.8,798.4L805.4,802.0M804.8,798.4L813.2,792.2M795.2,803.2L788.6,808.0M764.6,788.8L800.0,808.0M765.8,794.8L797.6,812.8M782.0,778.6L776.0,782.2L795.2,793.0L801.2,790.0"/>
<path class="l" d="M774.8,788.2L795.2,800.2M776.0,791.2L794.0,802.0M766.4,798.4L786.8,811.6"/>
<path class="l" d="M795.2,803.2Q800.0,800.8 804.8,805.6Q808.4,810.4 806.6,816.4"/>
<path class="w" d="M790.4,807.4Q789.2,812.8 792.2,818.2L809.0,826.6L812.0,816.4L798.2,808.0"/>
<ellipse class="w" cx="813.8" cy="820.4" rx="4.6" ry="7.2" transform="rotate(27.0 813.8 820.4)"/>
<ellipse class="w" cx="814.6" cy="820.8" rx="2.4" ry="3.6" transform="rotate(27.0 814.6 820.8)"/>
<path d="M900.3,1040.0L899.5,1082.0Q898.0,1110.0 872.0,1112.5Q850.0,1112.0 843.0,1101.0L836.0,1097.0" fill="none" stroke="#000" stroke-width="18.3" stroke-linecap="butt" stroke-linejoin="round"/><path d="M900.3,1040.0L899.5,1082.0Q898.0,1110.0 872.0,1112.5Q850.0,1112.0 843.0,1101.0L836.0,1097.0" fill="none" stroke="#fff" stroke-width="15.7" stroke-linecap="butt" stroke-linejoin="round"/><path d="M900.3,1040.0L899.5,1082.0Q898.0,1110.0 872.0,1112.5Q850.0,1112.0 843.0,1101.0L836.0,1097.0" fill="none" stroke="#000" stroke-width="13.7" stroke-linecap="butt" stroke-linejoin="round"/><path d="M900.3,1040.0L899.5,1082.0Q898.0,1110.0 872.0,1112.5Q850.0,1112.0 843.0,1101.0L836.0,1097.0" fill="none" stroke="#fff" stroke-width="11.1" stroke-linecap="butt" stroke-linejoin="round"/><path d="M900.3,1040.0L899.5,1082.0Q898.0,1110.0 872.0,1112.5Q850.0,1112.0 843.0,1101.0L836.0,1097.0" fill="none" stroke="#000" stroke-width="6.3" stroke-linecap="butt" stroke-linejoin="round"/><path d="M900.3,1040.0L899.5,1082.0Q898.0,1110.0 872.0,1112.5Q850.0,1112.0 843.0,1101.0L836.0,1097.0" fill="none" stroke="#fff" stroke-width="3.7" stroke-linecap="butt" stroke-linejoin="round"/>
<path d="M844.9,920.1C848.2,922.7 858.5,929.1 865.0,935.6C871.5,942.1 878.7,951.4 883.6,958.9C888.5,966.4 891.9,972.2 894.5,980.5C897.1,988.8 898.2,997.9 899.1,1008.4C900.0,1018.9 899.8,1037.7 899.9,1043.5" fill="none" stroke="#000" stroke-width="20.5" stroke-linecap="butt" stroke-linejoin="round"/><path d="M844.9,920.1C848.2,922.7 858.5,929.1 865.0,935.6C871.5,942.1 878.7,951.4 883.6,958.9C888.5,966.4 891.9,972.2 894.5,980.5C897.1,988.8 898.2,997.9 899.1,1008.4C900.0,1018.9 899.8,1037.7 899.9,1043.5" fill="none" stroke="#fff" stroke-width="17.5" stroke-linecap="butt" stroke-linejoin="round"/>
<ellipse class="w" cx="845.5" cy="919.5" rx="5.0" ry="10.5" transform="rotate(35.0 845.5 919.5)"/>
<path d="M836.0,1088.0L836.0,1132.0" fill="none" stroke="#000" stroke-width="18.3" stroke-linecap="butt" stroke-linejoin="round"/><path d="M836.0,1088.0L836.0,1132.0" fill="none" stroke="#fff" stroke-width="15.7" stroke-linecap="butt" stroke-linejoin="round"/><path d="M836.0,1088.0L836.0,1132.0" fill="none" stroke="#000" stroke-width="13.7" stroke-linecap="butt" stroke-linejoin="round"/><path d="M836.0,1088.0L836.0,1132.0" fill="none" stroke="#fff" stroke-width="11.1" stroke-linecap="butt" stroke-linejoin="round"/><path d="M836.0,1088.0L836.0,1132.0" fill="none" stroke="#000" stroke-width="6.3" stroke-linecap="butt" stroke-linejoin="round"/><path d="M836.0,1088.0L836.0,1132.0" fill="none" stroke="#fff" stroke-width="3.7" stroke-linecap="butt" stroke-linejoin="round"/>
<path d="M726.5,1005.0Q748.0,988.0 775.0,984.0Q808.0,986.0 826.0,1012.0Q836.0,1032.0 836.0,1090.0" fill="none" stroke="#000" stroke-width="20.0" stroke-linecap="butt" stroke-linejoin="round"/><path d="M726.5,1005.0Q748.0,988.0 775.0,984.0Q808.0,986.0 826.0,1012.0Q836.0,1032.0 836.0,1090.0" fill="none" stroke="#fff" stroke-width="17.0" stroke-linecap="butt" stroke-linejoin="round"/>
<path class="lt" d="M827.0,1090.0L845.0,1090.0M892.0,1043.5L910.0,1043.5"/>
<path class="w" d="M826.7,1130.0L825.8,1167.0Q829.0,1175.0 836.0,1169.0Q840.5,1174.0 845.6,1166.5L845.0,1131.0Z"/>
<circle class="w" cx="831" cy="1167.3" r="4.7"/>
<path class="w" d="M825.6,1192.8Q826.0,1207.7 827.7,1222.7Q832.0,1244.0 838.4,1261.1Q844.8,1273.9 853.3,1284.5Q865.1,1295.2 869.3,1310.1Q868.3,1318.7 861.9,1322.9Q853.3,1328.3 842.7,1331.5L851.2,1349.6Q866.1,1342.1 878.9,1333.6Q888.5,1325.1 887.5,1308.0Q885.3,1290.9 878.9,1280.3Q868.3,1267.5 861.9,1256.8Q853.3,1239.7 849.1,1222.7Q845.9,1207.7 844.8,1192.8Q843.7,1186.4 839.5,1186.8Q837.3,1189.6 835.2,1187.5Q828.8,1184.3 825.6,1192.8Z"/>
<ellipse class="w" cx="840.5" cy="1190.2" rx="3.8" ry="3.8" transform="rotate(0.0 840.5 1190.2)"/>
<path class="l" d="M842.7,1331.5Q837.3,1340.0 844.8,1348.5Q848.0,1350.7 851.2,1349.6"/>
<path class="w" d="M763.7,1341.1L776.5,1332.5Q789.3,1327.2 802.1,1333.6Q808.5,1337.9 823.5,1338.9L842.7,1331.5Q837.3,1340.0 844.8,1348.5L825.6,1367.7Q824.5,1376.3 817.1,1393.3Q810.7,1401.9 793.6,1406.1Z"/>
<path class="l" d="M778.7,1350.7Q787.2,1344.3 810.7,1338.9M778.7,1350.7Q774.4,1363.5 785.1,1378.4Q797.9,1385.9 810.7,1380.5Q821.3,1372.0 825.6,1367.7M806.4,1350.7Q802.1,1363.5 808.5,1376.3M823.5,1348.5Q821.3,1359.2 825.6,1367.7"/>
<path class="w" d="M745.6,1348.5L763.7,1341.1L793.6,1406.1L778.7,1413.6Z"/>
<path class="lt" d="M753.1,1348.5L758.4,1346.8L759.5,1352.8L755.2,1354.5ZM779.7,1401.9L786.1,1399.7L787.6,1406.1L781.9,1408.3Z"/>
<path class="w" d="M676.3,1423.2Q682.7,1412.5 689.1,1406.1Q701.9,1395.5 729.6,1383.7L756.3,1373.1L761.6,1389.1L736.0,1400.8Q714.7,1408.3 701.9,1418.9Q693.3,1429.6 690.1,1438.1Z"/>
<path class="l" d="M729.6,1383.7Q725.3,1391.2 733.9,1399.7M736.0,1380.5L740.3,1397.6M742.4,1378.4L746.7,1395.5M748.8,1375.8L754.1,1392.3"/>
<path class="l" d="M724.3,1469.1L904.0,1364.9"/>
<path class="w" d="M628.0,1023.6Q670.0,1005.4 723.9,997.7L730.5,1018.0Q705.0,1058.6 656.0,1079.6Z" style="stroke:none"/>
<path class="l" d="M628.0,1023.6Q670.0,1005.4 723.9,997.7"/>
<path class="l" d="M636.4,1028.1Q677.0,1011.0 726.0,1001.9"/>
<path class="l" d="M643.4,1032.0Q684.0,1013.8 727.4,1004.7"/>
<path class="l" d="M649.0,1036.5Q691.0,1018.0 728.1,1007.5"/>
<path class="l" d="M650.4,1047.4Q691.0,1027.8 726.7,1010.3"/>
<path class="l" d="M651.8,1055.8Q698.0,1032.0 726.7,1013.1"/>
<path class="l" d="M650.4,1067.0Q698.0,1046.0 726.0,1017.3"/>
<path class="l" d="M651.8,1072.9Q702.2,1051.6 728.8,1016.6"/>
<path class="l" d="M656.0,1079.6Q705.0,1058.6 730.5,1018.0"/>
<path class="l" d="M723.9,997.7Q728.8,1005.4 730.5,1018.0"/>
<path class="w" d="M591.6,1023.6L604.2,1016.6L647.6,1038.3L649.0,1043.2L649.7,1051.6L653.2,1053.0L653.2,1056.5L649.7,1058.6L650.1,1074.0L656.0,1086.6L654.6,1102.0L630.8,1111.8L631.5,1120.2L594.4,1144.0L588.8,1074.0Z"/>
<path class="l" d="M615.4,1070.5L653.2,1053.0M616.8,1075.4L653.2,1056.5M615.4,1070.5L616.8,1075.4L621.0,1100.6L656.0,1086.6M621.7,1106.2L654.6,1092.9M621.0,1100.6L622.4,1111.8M630.8,1111.8L622.4,1115.3"/>
<path class="lt" d="M626.6,1081.0L637.8,1076.1L637.8,1081.0L626.6,1086.6Z"/>
<path class="l" d="M628.0,1047.4L642.0,1041.1"/>
<path class="w" d="M541.2,1047.4L548.2,1041.8L582.5,1021.5L591.6,1023.6L621.0,1039.7Q626.6,1046.0 626.6,1057.2L616.8,1071.2L619.6,1114.6L604.2,1124.4L587.4,1071.2Z"/>
<path class="l" d="M589.5,1058.6L612.6,1046.7M595.8,1083.1L608.4,1076.8M606.3,1086.6L610.5,1084.5"/>
<path class="lt" d="M600.0,1090.1L615.4,1081.0"/>
<path class="w" d="M541.2,1047.4Q540.5,1043.9 545.4,1042.9L576.2,1055.5Q585.3,1060.0 587.4,1071.2L590.2,1088.0L600.0,1090.1L604.2,1124.4L593.0,1126.5L594.4,1144.0Q593.0,1147.5 589.5,1146.5L562.2,1135.6Q552.4,1130.0 551.0,1124.4Z"/>
<path class="l" d="M545.4,1048.8L574.8,1060.0Q582.5,1063.5 583.9,1072.6L586.7,1090.8L595.8,1092.9L599.3,1121.6L589.5,1123.7L590.9,1141.9L563.6,1131.4Q555.9,1127.2 554.9,1123.0Z"/>
<path class="l" d="M554.5,1055.8L581.8,1066.3L586.0,1130.0L560.1,1118.8ZM567.8,1061.1L574.1,1125.1M555.9,1072.6L583.2,1082.7M557.3,1088.0L584.3,1098.1M558.7,1103.4L585.3,1114.3"/>
<path class="l" d="M498.3,1135.0L568.0,1096.0"/>
<circle class="l" cx="480" cy="1146" r="18.3"/>
<path class="w" d="M1202.7,1292.0L1230.7,1308.0L1229.3,1321.3Q1226.0,1333.0 1220.0,1340.0Q1213.0,1347.0 1204.0,1350.7L1174.7,1366.7Q1158.0,1377.0 1142.0,1380.0L1120.0,1300.0Z"/>
<path class="l" d="M1230.7,1308.0L1202.7,1321.3"/>
<path class="w" d="M1001.3,1153.3Q1014.7,1137.3 1030.7,1128.0Q1057.3,1118.1 1086.7,1117.6Q1108.0,1118.7 1126.7,1126.7L1140.0,1140.0L1132.0,1148.0L1142.7,1158.7Q1156.0,1180.0 1169.3,1204.0Q1184.0,1233.3 1193.3,1260.0Q1200.0,1281.3 1202.7,1300.0L1202.7,1321.3L1126.7,1286.7Z"/>
<ellipse class="w" cx="1089.9" cy="1253.3" rx="140.0" ry="80.8" transform="rotate(60.0 1089.9 1253.3)"/>
<ellipse class="l" cx="1091.4" cy="1252.3" rx="130.5" ry="75.3" transform="rotate(60.0 1091.4 1252.3)"/>
<ellipse class="lt" cx="1092.4" cy="1251.8" rx="127.5" ry="73.6" transform="rotate(60.0 1092.4 1251.8)"/>
<ellipse class="l" cx="1090.7" cy="1194.7" rx="36.6" ry="21.1" transform="rotate(60.0 1090.7 1194.7)"/>
<path class="lt" d="M1080.0,1166.3 L1082.1,1167.2 L1084.3,1168.3 L1086.5,1169.6 L1088.6,1171.2 L1090.7,1172.9 L1092.8,1174.8 L1094.8,1176.9 L1096.8,1179.1 L1098.6,1181.4 L1100.4,1183.9 L1102.0,1186.5 L1103.6,1189.1 L1105.0,1191.8 L1106.2,1194.6 L1107.3,1197.4 L1108.3,1200.2 L1109.0,1203.0 L1109.6,1205.7 L1110.1,1208.4 L1110.3,1211.0 L1110.4,1213.6 L1110.3,1216.0 L1110.0,1218.3 L1109.5,1220.5"/>
<ellipse class="l" cx="1031.0" cy="1157.3" rx="17.0" ry="9.8" transform="rotate(60.0 1031.0 1157.3)"/>
<path class="lt" d="M1024.4,1144.1 L1025.5,1144.4 L1026.5,1144.9 L1027.6,1145.5 L1028.7,1146.2 L1029.8,1147.0 L1030.9,1147.9 L1031.9,1148.9 L1032.9,1150.0 L1033.8,1151.2 L1034.7,1152.4 L1035.6,1153.7 L1036.4,1155.0 L1037.1,1156.4 L1037.7,1157.8 L1038.2,1159.2 L1038.7,1160.6 L1039.0,1162.0 L1039.3,1163.4 L1039.5,1164.7 L1039.5,1166.0 L1039.5,1167.3 L1039.4,1168.5 L1039.1,1169.6 L1038.8,1170.6"/>
<ellipse class="l" cx="1020.0" cy="1189.3" rx="8.0" ry="4.6" transform="rotate(60.0 1020.0 1189.3)"/>
<ellipse class="l" cx="1149.3" cy="1225.3" rx="17.0" ry="9.8" transform="rotate(60.0 1149.3 1225.3)"/>
<path class="lt" d="M1142.7,1212.1 L1143.8,1212.4 L1144.8,1212.9 L1145.9,1213.5 L1147.0,1214.2 L1148.1,1215.0 L1149.2,1215.9 L1150.2,1216.9 L1151.2,1218.0 L1152.1,1219.2 L1153.0,1220.4 L1153.9,1221.7 L1154.7,1223.0 L1155.4,1224.4 L1156.0,1225.8 L1156.5,1227.2 L1157.0,1228.6 L1157.3,1230.0 L1157.6,1231.4 L1157.8,1232.7 L1157.8,1234.0 L1157.8,1235.3 L1157.7,1236.5 L1157.4,1237.6 L1157.1,1238.6"/>
<ellipse class="l" cx="1160.0" cy="1270.7" rx="8.5" ry="4.9" transform="rotate(60.0 1160.0 1270.7)"/>
<ellipse class="w" cx="1089.5" cy="1257.3" rx="47.0" ry="27.1" transform="rotate(60.0 1089.5 1257.3)"/>
<path d="M1013.8,1264.1 L1071.8,1230.6 L1103.4,1285.4 L1045.4,1318.9 Z" fill="#fff" stroke="none"/><path class="l" d="M1013.8,1264.1 L1071.8,1230.6 M1045.4,1318.9 L1103.4,1285.4"/>
<path d="M994.7,1277.0 L1013.8,1264.1 L1045.4,1318.9 L1024.7,1329.0 Z" fill="#fff" stroke="none"/><path class="l" d="M994.7,1277.0 L1013.8,1264.1 M1024.7,1329.0 L1045.4,1318.9"/>
<path class="l" d="M1013.8,1264.1 L1016.0,1263.2 L1018.4,1262.7 L1021.0,1262.7 L1023.8,1263.2 L1026.6,1264.2 L1029.6,1265.7 L1032.5,1267.6 L1035.3,1269.9 L1038.1,1272.6 L1040.7,1275.6 L1043.2,1278.9 L1045.4,1282.4 L1047.3,1286.0 L1048.9,1289.8 L1050.2,1293.6 L1051.1,1297.3 L1051.7,1300.9 L1051.9,1304.4 L1051.7,1307.7 L1051.1,1310.6 L1050.2,1313.3 L1048.9,1315.6 L1047.3,1317.4 L1045.4,1318.9"/>
<path d="M933.4,1320.8 L995.5,1278.5 L1023.8,1327.5 L956.1,1360.2 Z" fill="#fff" stroke="none"/><path class="l" d="M933.4,1320.8 L995.5,1278.5 M956.1,1360.2 L1023.8,1327.5"/>
<path class="l" d="M995.1,1277.7 L997.1,1276.8 L999.3,1276.4 L1001.7,1276.4 L1004.3,1276.9 L1007.0,1277.8 L1009.6,1279.2 L1012.3,1280.9 L1015.0,1283.1 L1017.5,1285.5 L1020.0,1288.3 L1022.2,1291.3 L1024.2,1294.6 L1026.0,1297.9 L1027.5,1301.4 L1028.7,1304.9 L1029.6,1308.3 L1030.1,1311.7 L1030.3,1314.9 L1030.1,1317.9 L1029.6,1320.7 L1028.7,1323.1 L1027.5,1325.2 L1026.0,1327.0 L1024.3,1328.3"/>
<path d="M925.6,1325.3 L933.4,1320.8 L956.1,1360.2 L948.3,1364.7 Z" fill="#fff" stroke="none"/><path class="l" d="M925.6,1325.3 L933.4,1320.8 M948.3,1364.7 L956.1,1360.2"/>
<path class="l" d="M933.4,1320.8 L934.9,1320.2 L936.7,1319.8 L938.6,1319.8 L940.5,1320.2 L942.6,1320.9 L944.7,1322.0 L946.8,1323.3 L948.9,1325.0 L950.8,1326.9 L952.7,1329.1 L954.5,1331.4 L956.0,1334.0 L957.4,1336.6 L958.6,1339.3 L959.5,1342.0 L960.2,1344.7 L960.6,1347.3 L960.7,1349.8 L960.6,1352.1 L960.2,1354.3 L959.5,1356.2 L958.6,1357.8 L957.4,1359.1 L956.1,1360.2"/>
<ellipse class="w" cx="936.9" cy="1345.0" rx="22.7" ry="13.1" transform="rotate(60.0 936.9 1345.0)"/>
<path d="M898.0,1349.7 L929.2,1331.7 L944.6,1358.3 L913.4,1376.3 Z" fill="#fff" stroke="none"/><path class="l" d="M898.0,1349.7 L929.2,1331.7 M913.4,1376.3 L944.6,1358.3"/>
<path class="l" d="M901.8,1347.2 L902.9,1346.8 L904.1,1346.5 L905.4,1346.5 L906.8,1346.8 L908.2,1347.3 L909.6,1348.0 L911.1,1349.0 L912.5,1350.1 L913.8,1351.4 L915.1,1352.9 L916.3,1354.5 L917.4,1356.2 L918.4,1358.1 L919.2,1359.9 L919.8,1361.8 L920.3,1363.6 L920.6,1365.4 L920.7,1367.1 L920.6,1368.7 L920.3,1370.2 L919.8,1371.5 L919.2,1372.6 L918.4,1373.6 L917.4,1374.3"/>
<path class="l" d="M905.7,1345.0 L906.8,1344.5 L908.0,1344.3 L909.3,1344.3 L910.7,1344.5 L912.1,1345.0 L913.5,1345.8 L915.0,1346.7 L916.4,1347.8 L917.7,1349.2 L919.0,1350.7 L920.2,1352.3 L921.3,1354.0 L922.3,1355.8 L923.1,1357.6 L923.7,1359.5 L924.2,1361.4 L924.5,1363.2 L924.6,1364.9 L924.5,1366.5 L924.2,1367.9 L923.7,1369.3 L923.1,1370.4 L922.3,1371.3 L921.3,1372.0"/>
<path class="l" d="M909.6,1342.7 L910.7,1342.3 L911.9,1342.0 L913.2,1342.0 L914.6,1342.3 L916.0,1342.8 L917.4,1343.5 L918.9,1344.5 L920.3,1345.6 L921.6,1346.9 L922.9,1348.4 L924.1,1350.0 L925.2,1351.7 L926.2,1353.6 L927.0,1355.4 L927.6,1357.3 L928.1,1359.1 L928.4,1360.9 L928.5,1362.6 L928.4,1364.2 L928.1,1365.7 L927.6,1367.0 L927.0,1368.1 L926.2,1369.1 L925.2,1369.8"/>
<path class="l" d="M913.5,1340.5 L914.6,1340.0 L915.8,1339.8 L917.1,1339.8 L918.5,1340.0 L919.9,1340.5 L921.3,1341.3 L922.8,1342.2 L924.2,1343.3 L925.5,1344.7 L926.8,1346.2 L928.0,1347.8 L929.1,1349.5 L930.1,1351.3 L930.9,1353.1 L931.5,1355.0 L932.0,1356.9 L932.3,1358.7 L932.3,1360.4 L932.3,1362.0 L932.0,1363.4 L931.5,1364.8 L930.9,1365.9 L930.1,1366.8 L929.1,1367.5"/>
<path class="l" d="M917.4,1338.2 L918.5,1337.8 L919.7,1337.5 L921.0,1337.5 L922.4,1337.8 L923.8,1338.3 L925.2,1339.0 L926.7,1340.0 L928.1,1341.1 L929.4,1342.4 L930.7,1343.9 L931.9,1345.5 L933.0,1347.2 L934.0,1349.1 L934.8,1350.9 L935.4,1352.8 L935.9,1354.6 L936.1,1356.4 L936.2,1358.1 L936.2,1359.7 L935.9,1361.2 L935.4,1362.5 L934.8,1363.6 L934.0,1364.6 L933.0,1365.3"/>
<path class="l" d="M921.3,1336.0 L922.4,1335.5 L923.6,1335.3 L924.9,1335.3 L926.3,1335.5 L927.7,1336.0 L929.1,1336.8 L930.6,1337.7 L932.0,1338.8 L933.3,1340.2 L934.6,1341.7 L935.8,1343.3 L936.9,1345.0 L937.9,1346.8 L938.7,1348.6 L939.3,1350.5 L939.8,1352.4 L940.0,1354.2 L940.1,1355.9 L940.0,1357.5 L939.8,1358.9 L939.3,1360.3 L938.7,1361.4 L937.9,1362.3 L936.9,1363.0"/>
<path class="l" d="M925.2,1333.7 L926.3,1333.3 L927.5,1333.0 L928.8,1333.0 L930.2,1333.3 L931.6,1333.8 L933.0,1334.5 L934.4,1335.5 L935.9,1336.6 L937.2,1337.9 L938.5,1339.4 L939.7,1341.0 L940.8,1342.7 L941.8,1344.6 L942.6,1346.4 L943.2,1348.3 L943.7,1350.1 L943.9,1351.9 L944.0,1353.6 L943.9,1355.2 L943.7,1356.7 L943.2,1358.0 L942.6,1359.1 L941.8,1360.1 L940.8,1360.8"/>
<ellipse class="w" cx="905.7" cy="1363.0" rx="15.4" ry="8.9" transform="rotate(60.0 905.7 1363.0)"/>
<ellipse class="lt" cx="905.7" cy="1363.0" rx="12.5" ry="7.2" transform="rotate(60.0 905.7 1363.0)"/>
<ellipse class="lt" cx="905.2" cy="1363.3" rx="6.5" ry="3.8" transform="rotate(60.0 905.2 1363.3)"/>
<ellipse class="lt" cx="905.2" cy="1363.3" rx="3.0" ry="1.7" transform="rotate(60.0 905.2 1363.3)"/>
<path class="l" d="M960.0,1356.0L992.0,1340.0L996.0,1340.0L989.3,1348.0L962.7,1360.0Z"/>
<path class="l" d="M978.7,1353.3L1087.6,1496.4"/>
<path class="w" d="M1082.8,1531.2Q1082.8,1521.6 1091.2,1513.2Q1103.2,1504.8 1121.2,1510.8Z"/>
<path class="lt" d="M1121.2,1513.2L1084.0,1530.0"/>
<path class="l" d="M1103.2,1524.0L1103.2,1575.6"/>
<path class="l" d="M1205.3,1350.7L1205.3,1404.0"/>
<ellipse class="w" cx="624.5" cy="1524.1" rx="174.6" ry="105.8" transform="rotate(60.0 624.5 1524.1)"/>
<ellipse class="lt" cx="622.0" cy="1525.6" rx="174.6" ry="105.8" transform="rotate(60.0 622.0 1525.6)"/>
<ellipse class="w" cx="619.5" cy="1527.0" rx="174.6" ry="105.8" transform="rotate(60.0 619.5 1527.0)"/>
<path class="l" d="M543.2,1373.6 L547.0,1372.4 L551.0,1371.4 L555.1,1370.7 L559.2,1370.2 L563.5,1370.0 L567.9,1370.1 L572.3,1370.3 L576.8,1370.9 L581.4,1371.7 L586.1,1372.7 L586.1,1372.7 L587.8,1373.4 L589.5,1374.6 L591.1,1376.3 L592.4,1378.3 L593.4,1380.4 L594.0,1382.5 L600.6,1413.1 L600.7,1415.1 L600.5,1416.8 L599.8,1418.1 L598.8,1419.0 L597.6,1419.5 L596.2,1419.3 L596.2,1419.3 L592.9,1418.6 L589.7,1418.1 L586.6,1417.7 L583.5,1417.5 L580.4,1417.5 L577.5,1417.6 L574.5,1418.0 L571.7,1418.5 L568.9,1419.1 L566.2,1420.0 L566.2,1420.0 L564.9,1420.1 L563.4,1419.8 L561.8,1418.9 L560.2,1417.6 L558.7,1415.9 L557.4,1414.0 L542.3,1383.6 L541.4,1381.5 L540.8,1379.3 L540.8,1377.4 L541.1,1375.6 L542.0,1374.4 L543.2,1373.6 Z"/>
<path class="lt" d="M545.5,1375.9 L549.1,1374.9 L552.8,1374.0 L556.6,1373.4 L560.5,1372.9 L564.5,1372.8 L568.5,1372.8 L572.7,1373.0 L576.9,1373.5 L581.1,1374.2 L585.4,1375.1 L585.4,1375.1 L586.9,1375.7 L588.3,1376.7 L589.6,1378.0 L590.7,1379.6 L591.6,1381.4 L592.1,1383.2 L598.3,1411.1 L598.5,1412.8 L598.3,1414.2 L597.7,1415.4 L596.9,1416.2 L595.9,1416.5 L594.7,1416.4 L594.7,1416.4 L591.6,1415.8 L588.5,1415.3 L585.4,1414.9 L582.4,1414.8 L579.5,1414.7 L576.6,1414.9 L573.7,1415.2 L571.0,1415.6 L568.3,1416.3 L565.6,1417.1 L565.6,1417.1 L564.5,1417.2 L563.2,1416.9 L561.9,1416.1 L560.6,1415.0 L559.3,1413.6 L558.3,1411.9 L544.7,1384.2 L543.9,1382.4 L543.5,1380.6 L543.5,1379.0 L543.8,1377.6 L544.5,1376.5 L545.5,1375.9 Z"/>
<path class="w" d="M556.8,1385.5 L559.1,1385.1 L561.4,1384.7 L563.8,1384.4 L566.1,1384.3 L568.6,1384.2 L571.0,1384.2 L573.5,1384.2 L576.0,1384.4 L578.5,1384.7 L581.1,1385.0 L581.1,1385.0 L582.3,1385.4 L583.5,1386.1 L584.6,1387.2 L585.6,1388.5 L586.3,1390.0 L586.8,1391.5 L586.9,1391.8 L587.1,1393.3 L587.1,1394.6 L586.7,1395.6 L586.1,1396.4 L585.3,1396.8 L584.3,1396.8 L584.3,1396.8 L581.9,1396.5 L579.6,1396.2 L577.3,1396.1 L575.0,1396.0 L572.8,1396.0 L570.6,1396.1 L568.4,1396.3 L566.2,1396.5 L564.1,1396.9 L562.0,1397.3 L562.0,1397.3 L561.0,1397.3 L559.9,1396.9 L558.8,1396.2 L557.7,1395.2 L556.7,1393.9 L555.9,1392.5 L555.7,1392.1 L555.2,1390.6 L554.9,1389.1 L554.9,1387.8 L555.3,1386.7 L555.9,1385.9 L556.8,1385.5 Z"/>
<clipPath id="slot197"><path d="M556.8,1385.5 L559.1,1385.1 L561.4,1384.7 L563.8,1384.4 L566.1,1384.3 L568.6,1384.2 L571.0,1384.2 L573.5,1384.2 L576.0,1384.4 L578.5,1384.7 L581.1,1385.0 L581.1,1385.0 L582.3,1385.4 L583.5,1386.1 L584.6,1387.2 L585.6,1388.5 L586.3,1390.0 L586.8,1391.5 L586.9,1391.8 L587.1,1393.3 L587.1,1394.6 L586.7,1395.6 L586.1,1396.4 L585.3,1396.8 L584.3,1396.8 L584.3,1396.8 L581.9,1396.5 L579.6,1396.2 L577.3,1396.1 L575.0,1396.0 L572.8,1396.0 L570.6,1396.1 L568.4,1396.3 L566.2,1396.5 L564.1,1396.9 L562.0,1397.3 L562.0,1397.3 L561.0,1397.3 L559.9,1396.9 L558.8,1396.2 L557.7,1395.2 L556.7,1393.9 L555.9,1392.5 L555.7,1392.1 L555.2,1390.6 L554.9,1389.1 L554.9,1387.8 L555.3,1386.7 L555.9,1385.9 L556.8,1385.5 Z"/></clipPath>
<path class="lt" d="M560.3,1383.5 L562.6,1383.1 L564.9,1382.7 L567.3,1382.4 L569.6,1382.3 L572.1,1382.2 L574.5,1382.2 L577.0,1382.2 L579.5,1382.4 L582.0,1382.7 L584.6,1383.0 L584.6,1383.0 L585.8,1383.4 L587.0,1384.1 L588.1,1385.2 L589.1,1386.5 L589.8,1388.0 L590.3,1389.5 L590.4,1389.8 L590.6,1391.3 L590.6,1392.6 L590.2,1393.6 L589.6,1394.4 L588.8,1394.8 L587.8,1394.8 L587.8,1394.8 L585.4,1394.5 L583.1,1394.2 L580.8,1394.1 L578.5,1394.0 L576.3,1394.0 L574.1,1394.1 L571.9,1394.3 L569.7,1394.5 L567.6,1394.9 L565.5,1395.3 L565.5,1395.3 L564.5,1395.3 L563.4,1394.9 L562.3,1394.2 L561.2,1393.2 L560.2,1391.9 L559.4,1390.5 L559.2,1390.1 L558.7,1388.6 L558.4,1387.1 L558.4,1385.8 L558.8,1384.7 L559.4,1383.9 L560.3,1383.5 Z" clip-path="url(#slot197)"/>
<path class="l" d="M607.9,1380.5 L612.7,1382.9 L617.6,1385.5 L622.5,1388.4 L627.3,1391.4 L632.2,1394.7 L637.0,1398.2 L641.8,1401.9 L646.6,1405.8 L651.3,1409.9 L656.0,1414.1 L656.0,1414.1 L657.5,1415.9 L658.9,1418.0 L659.8,1420.2 L660.4,1422.3 L660.4,1424.3 L660.1,1425.9 L652.8,1448.3 L652.0,1449.5 L650.9,1450.2 L649.5,1450.5 L648.0,1450.2 L646.5,1449.5 L644.9,1448.3 L644.9,1448.3 L641.7,1445.3 L638.4,1442.4 L635.1,1439.7 L631.7,1437.1 L628.3,1434.7 L625.0,1432.4 L621.6,1430.3 L618.2,1428.3 L614.8,1426.5 L611.4,1424.8 L611.4,1424.8 L609.8,1423.9 L608.3,1422.5 L607.0,1420.7 L605.8,1418.7 L605.0,1416.6 L604.5,1414.5 L602.2,1385.5 L602.1,1383.5 L602.6,1381.9 L603.4,1380.7 L604.6,1380.1 L606.2,1380.0 L607.9,1380.5 Z"/>
<path class="lt" d="M609.3,1383.7 L613.9,1386.0 L618.4,1388.4 L622.9,1391.1 L627.4,1394.0 L631.9,1397.0 L636.4,1400.2 L640.9,1403.7 L645.3,1407.3 L649.7,1411.0 L654.1,1415.0 L654.1,1415.0 L655.4,1416.4 L656.5,1418.1 L657.3,1419.9 L657.8,1421.7 L657.9,1423.4 L657.6,1424.8 L651.2,1445.3 L650.6,1446.4 L649.7,1447.0 L648.6,1447.3 L647.3,1447.1 L646.0,1446.5 L644.7,1445.5 L644.7,1445.5 L641.5,1442.6 L638.3,1439.9 L635.1,1437.2 L631.8,1434.7 L628.6,1432.4 L625.3,1430.2 L622.0,1428.1 L618.7,1426.1 L615.4,1424.3 L612.1,1422.7 L612.1,1422.7 L610.8,1421.9 L609.5,1420.7 L608.4,1419.2 L607.5,1417.5 L606.8,1415.7 L606.4,1414.0 L604.5,1387.7 L604.5,1386.1 L604.9,1384.7 L605.6,1383.8 L606.7,1383.3 L607.9,1383.2 L609.3,1383.7 Z"/>
<path class="w" d="M617.4,1398.0 L620.1,1399.6 L622.8,1401.2 L625.6,1403.0 L628.3,1404.8 L631.0,1406.6 L633.7,1408.6 L636.5,1410.6 L639.2,1412.7 L641.9,1414.8 L644.5,1417.0 L644.5,1417.0 L645.7,1418.2 L646.6,1419.6 L647.4,1421.1 L647.8,1422.6 L648.0,1424.0 L647.8,1425.2 L647.8,1425.5 L647.3,1426.5 L646.6,1427.1 L645.7,1427.4 L644.7,1427.4 L643.6,1426.9 L642.4,1426.2 L642.4,1426.2 L640.0,1424.1 L637.5,1422.2 L635.1,1420.2 L632.6,1418.4 L630.1,1416.6 L627.6,1414.9 L625.1,1413.3 L622.6,1411.7 L620.0,1410.2 L617.5,1408.8 L617.5,1408.8 L616.4,1408.0 L615.4,1406.9 L614.5,1405.6 L613.7,1404.1 L613.2,1402.6 L613.0,1401.2 L613.0,1400.9 L613.1,1399.6 L613.5,1398.5 L614.1,1397.8 L615.1,1397.5 L616.2,1397.6 L617.4,1398.0 Z"/>
<clipPath id="slot231"><path d="M617.4,1398.0 L620.1,1399.6 L622.8,1401.2 L625.6,1403.0 L628.3,1404.8 L631.0,1406.6 L633.7,1408.6 L636.5,1410.6 L639.2,1412.7 L641.9,1414.8 L644.5,1417.0 L644.5,1417.0 L645.7,1418.2 L646.6,1419.6 L647.4,1421.1 L647.8,1422.6 L648.0,1424.0 L647.8,1425.2 L647.8,1425.5 L647.3,1426.5 L646.6,1427.1 L645.7,1427.4 L644.7,1427.4 L643.6,1426.9 L642.4,1426.2 L642.4,1426.2 L640.0,1424.1 L637.5,1422.2 L635.1,1420.2 L632.6,1418.4 L630.1,1416.6 L627.6,1414.9 L625.1,1413.3 L622.6,1411.7 L620.0,1410.2 L617.5,1408.8 L617.5,1408.8 L616.4,1408.0 L615.4,1406.9 L614.5,1405.6 L613.7,1404.1 L613.2,1402.6 L613.0,1401.2 L613.0,1400.9 L613.1,1399.6 L613.5,1398.5 L614.1,1397.8 L615.1,1397.5 L616.2,1397.6 L617.4,1398.0 Z"/></clipPath>
<path class="lt" d="M620.9,1396.0 L623.6,1397.6 L626.3,1399.2 L629.1,1401.0 L631.8,1402.8 L634.5,1404.6 L637.2,1406.6 L640.0,1408.6 L642.7,1410.7 L645.4,1412.8 L648.0,1415.0 L648.0,1415.0 L649.2,1416.2 L650.1,1417.6 L650.9,1419.1 L651.3,1420.6 L651.5,1422.0 L651.3,1423.2 L651.3,1423.5 L650.8,1424.5 L650.1,1425.1 L649.2,1425.4 L648.2,1425.4 L647.1,1424.9 L645.9,1424.2 L645.9,1424.2 L643.5,1422.1 L641.0,1420.2 L638.6,1418.2 L636.1,1416.4 L633.6,1414.6 L631.1,1412.9 L628.6,1411.3 L626.1,1409.7 L623.5,1408.2 L621.0,1406.8 L621.0,1406.8 L619.9,1406.0 L618.9,1404.9 L618.0,1403.6 L617.2,1402.1 L616.7,1400.6 L616.5,1399.2 L616.5,1398.9 L616.6,1397.6 L617.0,1396.5 L617.6,1395.8 L618.6,1395.5 L619.7,1395.6 L620.9,1396.0 Z" clip-path="url(#slot231)"/>
<path class="l" d="M674.3,1436.1 L678.4,1441.1 L682.5,1446.3 L686.5,1451.5 L690.4,1457.0 L694.2,1462.5 L697.8,1468.1 L701.3,1473.8 L704.7,1479.6 L708.0,1485.5 L711.1,1491.4 L711.1,1491.4 L712.1,1493.7 L712.6,1495.9 L712.6,1497.9 L712.2,1499.5 L711.4,1500.7 L710.2,1501.4 L691.7,1508.5 L690.3,1508.6 L688.6,1508.1 L687.0,1507.2 L685.5,1505.9 L684.1,1504.2 L682.9,1502.4 L682.9,1502.4 L680.8,1498.3 L678.5,1494.2 L676.2,1490.2 L673.7,1486.2 L671.2,1482.3 L668.6,1478.5 L665.9,1474.8 L663.1,1471.1 L660.3,1467.5 L657.4,1464.0 L657.4,1464.0 L656.1,1462.3 L655.1,1460.3 L654.4,1458.3 L654.1,1456.2 L654.1,1454.3 L654.6,1452.7 L665.6,1434.4 L666.5,1433.3 L667.7,1432.7 L669.2,1432.7 L670.9,1433.3 L672.6,1434.4 L674.3,1436.1 Z"/>
<path class="lt" d="M674.4,1439.0 L678.3,1443.7 L682.0,1448.5 L685.7,1453.4 L689.3,1458.5 L692.8,1463.6 L696.2,1468.9 L699.5,1474.2 L702.7,1479.6 L705.8,1485.0 L708.7,1490.5 L708.7,1490.5 L709.5,1492.4 L709.9,1494.2 L710.0,1495.9 L709.7,1497.3 L709.0,1498.3 L708.0,1498.9 L691.3,1505.7 L690.1,1505.8 L688.8,1505.4 L687.4,1504.7 L686.1,1503.6 L685.0,1502.2 L684.0,1500.6 L684.0,1500.6 L681.9,1496.6 L679.6,1492.7 L677.4,1488.8 L675.0,1485.0 L672.5,1481.2 L670.0,1477.5 L667.4,1473.8 L664.7,1470.3 L662.0,1466.8 L659.2,1463.4 L659.2,1463.4 L658.1,1461.9 L657.3,1460.2 L656.7,1458.5 L656.4,1456.8 L656.5,1455.2 L656.9,1453.9 L667.2,1437.5 L667.9,1436.6 L668.9,1436.1 L670.2,1436.1 L671.6,1436.6 L673.0,1437.6 L674.4,1439.0 Z"/>
<path class="w" d="M676.4,1453.2 L678.7,1456.2 L680.9,1459.2 L683.1,1462.2 L685.2,1465.3 L687.3,1468.4 L689.4,1471.5 L691.4,1474.7 L693.4,1477.9 L695.3,1481.2 L697.2,1484.4 L697.2,1484.4 L697.9,1486.0 L698.4,1487.5 L698.5,1489.0 L698.3,1490.2 L697.8,1491.1 L697.0,1491.7 L696.8,1491.8 L695.9,1492.0 L694.8,1491.8 L693.6,1491.3 L692.5,1490.5 L691.5,1489.4 L690.6,1488.1 L690.6,1488.1 L688.9,1485.1 L687.1,1482.1 L685.3,1479.2 L683.5,1476.2 L681.6,1473.4 L679.6,1470.5 L677.7,1467.7 L675.7,1464.9 L673.7,1462.2 L671.6,1459.5 L671.6,1459.5 L670.7,1458.2 L670.1,1456.7 L669.7,1455.3 L669.5,1453.9 L669.7,1452.6 L670.1,1451.6 L670.2,1451.4 L670.9,1450.8 L671.9,1450.5 L672.9,1450.6 L674.1,1451.1 L675.3,1452.0 L676.4,1453.2 Z"/>
<clipPath id="slot263"><path d="M676.4,1453.2 L678.7,1456.2 L680.9,1459.2 L683.1,1462.2 L685.2,1465.3 L687.3,1468.4 L689.4,1471.5 L691.4,1474.7 L693.4,1477.9 L695.3,1481.2 L697.2,1484.4 L697.2,1484.4 L697.9,1486.0 L698.4,1487.5 L698.5,1489.0 L698.3,1490.2 L697.8,1491.1 L697.0,1491.7 L696.8,1491.8 L695.9,1492.0 L694.8,1491.8 L693.6,1491.3 L692.5,1490.5 L691.5,1489.4 L690.6,1488.1 L690.6,1488.1 L688.9,1485.1 L687.1,1482.1 L685.3,1479.2 L683.5,1476.2 L681.6,1473.4 L679.6,1470.5 L677.7,1467.7 L675.7,1464.9 L673.7,1462.2 L671.6,1459.5 L671.6,1459.5 L670.7,1458.2 L670.1,1456.7 L669.7,1455.3 L669.5,1453.9 L669.7,1452.6 L670.1,1451.6 L670.2,1451.4 L670.9,1450.8 L671.9,1450.5 L672.9,1450.6 L674.1,1451.1 L675.3,1452.0 L676.4,1453.2 Z"/></clipPath>
<path class="lt" d="M679.9,1451.2 L682.2,1454.2 L684.4,1457.2 L686.6,1460.2 L688.7,1463.3 L690.8,1466.4 L692.9,1469.5 L694.9,1472.7 L696.9,1475.9 L698.8,1479.2 L700.7,1482.4 L700.7,1482.4 L701.4,1484.0 L701.9,1485.5 L702.0,1487.0 L701.8,1488.2 L701.3,1489.1 L700.5,1489.7 L700.3,1489.8 L699.4,1490.0 L698.3,1489.8 L697.1,1489.3 L696.0,1488.5 L695.0,1487.4 L694.1,1486.1 L694.1,1486.1 L692.4,1483.1 L690.6,1480.1 L688.8,1477.2 L687.0,1474.2 L685.1,1471.4 L683.1,1468.5 L681.2,1465.7 L679.2,1462.9 L677.2,1460.2 L675.1,1457.5 L675.1,1457.5 L674.2,1456.2 L673.6,1454.7 L673.2,1453.3 L673.0,1451.9 L673.2,1450.6 L673.6,1449.6 L673.7,1449.4 L674.4,1448.8 L675.4,1448.5 L676.4,1448.6 L677.6,1449.1 L678.8,1450.0 L679.9,1451.2 Z" clip-path="url(#slot263)"/>
<path class="l" d="M739.5,1588.8 L739.7,1594.4 L739.6,1599.9 L739.4,1605.3 L739.0,1610.6 L738.4,1615.7 L737.6,1620.7 L736.7,1625.6 L735.5,1630.3 L734.2,1634.8 L732.6,1639.2 L732.6,1639.2 L731.8,1640.5 L730.7,1641.3 L729.2,1641.5 L727.6,1641.1 L725.9,1640.2 L724.3,1638.7 L701.7,1616.3 L700.2,1614.4 L699.1,1612.4 L698.2,1610.3 L697.8,1608.3 L697.7,1606.4 L698.0,1604.9 L698.0,1604.9 L699.1,1601.8 L700.0,1598.7 L700.8,1595.4 L701.5,1592.1 L702.0,1588.6 L702.5,1585.0 L702.7,1581.4 L702.9,1577.6 L702.9,1573.8 L702.8,1569.9 L702.8,1569.9 L702.9,1568.2 L703.4,1566.7 L704.3,1565.7 L705.5,1565.1 L707.0,1565.1 L708.6,1565.5 L732.6,1577.9 L734.3,1578.9 L735.9,1580.4 L737.3,1582.2 L738.4,1584.4 L739.2,1586.6 L739.5,1588.8 Z"/>
<path class="lt" d="M737.4,1589.1 L737.5,1594.4 L737.5,1599.5 L737.3,1604.5 L736.9,1609.4 L736.3,1614.2 L735.6,1618.8 L734.7,1623.3 L733.6,1627.7 L732.4,1632.0 L731.1,1636.1 L731.1,1636.1 L730.4,1637.2 L729.4,1637.9 L728.3,1638.1 L726.9,1637.8 L725.5,1637.0 L724.2,1635.8 L703.5,1615.6 L702.3,1614.1 L701.3,1612.4 L700.5,1610.6 L700.1,1608.9 L700.1,1607.4 L700.3,1606.0 L700.3,1606.0 L701.3,1603.1 L702.2,1600.0 L703.0,1596.8 L703.6,1593.5 L704.1,1590.2 L704.5,1586.7 L704.8,1583.1 L705.0,1579.5 L705.0,1575.8 L704.9,1572.0 L704.9,1572.0 L705.1,1570.6 L705.5,1569.4 L706.3,1568.6 L707.3,1568.1 L708.5,1568.1 L709.9,1568.5 L731.8,1580.0 L733.2,1580.9 L734.5,1582.2 L735.6,1583.7 L736.6,1585.5 L737.2,1587.4 L737.4,1589.1 Z"/>
<path class="w" d="M728.7,1592.8 L728.6,1595.9 L728.4,1598.9 L728.2,1601.8 L727.9,1604.8 L727.6,1607.6 L727.2,1610.5 L726.7,1613.2 L726.1,1616.0 L725.5,1618.6 L724.8,1621.2 L724.8,1621.2 L724.4,1622.3 L723.6,1622.9 L722.7,1623.2 L721.6,1623.0 L720.4,1622.5 L719.3,1621.6 L719.0,1621.4 L717.9,1620.2 L717.0,1618.8 L716.4,1617.3 L715.9,1615.9 L715.8,1614.5 L716.0,1613.3 L716.0,1613.3 L716.6,1610.9 L717.1,1608.5 L717.7,1606.0 L718.1,1603.4 L718.5,1600.9 L718.8,1598.2 L719.1,1595.5 L719.3,1592.8 L719.4,1590.1 L719.5,1587.3 L719.5,1587.3 L719.7,1586.1 L720.1,1585.2 L720.8,1584.5 L721.7,1584.3 L722.8,1584.3 L724.0,1584.8 L724.2,1585.0 L725.4,1585.8 L726.5,1586.9 L727.4,1588.3 L728.1,1589.8 L728.6,1591.3 L728.7,1592.8 Z"/>
<clipPath id="slot323"><path d="M728.7,1592.8 L728.6,1595.9 L728.4,1598.9 L728.2,1601.8 L727.9,1604.8 L727.6,1607.6 L727.2,1610.5 L726.7,1613.2 L726.1,1616.0 L725.5,1618.6 L724.8,1621.2 L724.8,1621.2 L724.4,1622.3 L723.6,1622.9 L722.7,1623.2 L721.6,1623.0 L720.4,1622.5 L719.3,1621.6 L719.0,1621.4 L717.9,1620.2 L717.0,1618.8 L716.4,1617.3 L715.9,1615.9 L715.8,1614.5 L716.0,1613.3 L716.0,1613.3 L716.6,1610.9 L717.1,1608.5 L717.7,1606.0 L718.1,1603.4 L718.5,1600.9 L718.8,1598.2 L719.1,1595.5 L719.3,1592.8 L719.4,1590.1 L719.5,1587.3 L719.5,1587.3 L719.7,1586.1 L720.1,1585.2 L720.8,1584.5 L721.7,1584.3 L722.8,1584.3 L724.0,1584.8 L724.2,1585.0 L725.4,1585.8 L726.5,1586.9 L727.4,1588.3 L728.1,1589.8 L728.6,1591.3 L728.7,1592.8 Z"/></clipPath>
<path class="lt" d="M732.2,1590.8 L732.1,1593.9 L731.9,1596.9 L731.7,1599.8 L731.4,1602.8 L731.1,1605.6 L730.7,1608.5 L730.2,1611.2 L729.6,1614.0 L729.0,1616.6 L728.3,1619.2 L728.3,1619.2 L727.9,1620.3 L727.1,1620.9 L726.2,1621.2 L725.1,1621.0 L723.9,1620.5 L722.8,1619.6 L722.5,1619.4 L721.4,1618.2 L720.5,1616.8 L719.9,1615.3 L719.4,1613.9 L719.3,1612.5 L719.5,1611.3 L719.5,1611.3 L720.1,1608.9 L720.6,1606.5 L721.2,1604.0 L721.6,1601.4 L722.0,1598.9 L722.3,1596.2 L722.6,1593.5 L722.8,1590.8 L722.9,1588.1 L723.0,1585.3 L723.0,1585.3 L723.2,1584.1 L723.6,1583.2 L724.3,1582.5 L725.2,1582.3 L726.3,1582.3 L727.5,1582.8 L727.7,1583.0 L728.9,1583.8 L730.0,1584.9 L730.9,1586.3 L731.6,1587.8 L732.1,1589.3 L732.2,1590.8 Z" clip-path="url(#slot323)"/>
<path class="l" d="M493.6,1475.6 L493.0,1469.3 L492.5,1463.1 L492.3,1457.0 L492.3,1451.0 L492.5,1445.2 L492.9,1439.4 L493.5,1433.9 L494.3,1428.4 L495.3,1423.2 L496.6,1418.1 L496.6,1418.1 L497.2,1416.6 L498.3,1415.6 L499.6,1415.2 L501.2,1415.4 L502.9,1416.2 L504.5,1417.5 L527.8,1438.1 L529.3,1439.8 L530.5,1441.8 L531.5,1443.9 L532.1,1446.0 L532.3,1447.9 L532.1,1449.5 L532.1,1449.5 L531.2,1453.2 L530.5,1456.9 L529.9,1460.8 L529.5,1464.7 L529.2,1468.8 L529.0,1473.0 L529.0,1477.2 L529.2,1481.6 L529.5,1486.0 L530.0,1490.5 L530.0,1490.5 L530.0,1492.3 L529.6,1493.8 L528.9,1495.0 L527.8,1495.8 L526.4,1496.0 L524.8,1495.8 L501.0,1486.1 L499.3,1485.2 L497.7,1483.9 L496.2,1482.1 L495.0,1480.1 L494.1,1477.8 L493.6,1475.6 Z"/>
<path class="lt" d="M495.5,1474.8 L495.0,1468.9 L494.6,1463.2 L494.4,1457.5 L494.4,1452.0 L494.6,1446.5 L495.0,1441.2 L495.5,1436.0 L496.2,1430.9 L497.2,1426.0 L498.3,1421.3 L498.3,1421.3 L498.8,1420.0 L499.7,1419.2 L500.8,1418.8 L502.1,1419.0 L503.4,1419.6 L504.8,1420.7 L526.1,1439.2 L527.3,1440.6 L528.4,1442.2 L529.2,1444.0 L529.7,1445.7 L529.9,1447.3 L529.8,1448.7 L529.8,1448.7 L529.0,1452.3 L528.3,1455.9 L527.7,1459.7 L527.3,1463.5 L527.1,1467.4 L526.9,1471.5 L526.9,1475.6 L527.1,1479.8 L527.3,1484.0 L527.7,1488.3 L527.7,1488.3 L527.7,1489.9 L527.4,1491.1 L526.8,1492.1 L525.8,1492.7 L524.7,1492.9 L523.3,1492.7 L501.6,1483.5 L500.2,1482.8 L498.9,1481.6 L497.6,1480.2 L496.6,1478.4 L495.9,1476.6 L495.5,1474.8 Z"/>
<path class="w" d="M503.5,1469.2 L503.3,1465.7 L503.2,1462.2 L503.2,1458.9 L503.3,1455.5 L503.4,1452.2 L503.6,1449.0 L503.9,1445.7 L504.2,1442.6 L504.7,1439.5 L505.2,1436.4 L505.2,1436.4 L505.5,1435.3 L506.2,1434.6 L507.1,1434.2 L508.1,1434.2 L509.3,1434.6 L510.4,1435.4 L510.7,1435.6 L511.8,1436.7 L512.8,1438.0 L513.5,1439.5 L514.0,1440.9 L514.3,1442.3 L514.2,1443.6 L514.2,1443.6 L513.7,1446.4 L513.4,1449.3 L513.0,1452.2 L512.8,1455.1 L512.6,1458.1 L512.5,1461.2 L512.4,1464.2 L512.4,1467.4 L512.5,1470.5 L512.7,1473.7 L512.7,1473.7 L512.6,1475.0 L512.2,1476.0 L511.6,1476.7 L510.8,1477.2 L509.7,1477.2 L508.6,1476.9 L508.3,1476.7 L507.2,1476.0 L506.1,1475.0 L505.1,1473.7 L504.3,1472.2 L503.7,1470.7 L503.5,1469.2 Z"/>
<clipPath id="slot138"><path d="M503.5,1469.2 L503.3,1465.7 L503.2,1462.2 L503.2,1458.9 L503.3,1455.5 L503.4,1452.2 L503.6,1449.0 L503.9,1445.7 L504.2,1442.6 L504.7,1439.5 L505.2,1436.4 L505.2,1436.4 L505.5,1435.3 L506.2,1434.6 L507.1,1434.2 L508.1,1434.2 L509.3,1434.6 L510.4,1435.4 L510.7,1435.6 L511.8,1436.7 L512.8,1438.0 L513.5,1439.5 L514.0,1440.9 L514.3,1442.3 L514.2,1443.6 L514.2,1443.6 L513.7,1446.4 L513.4,1449.3 L513.0,1452.2 L512.8,1455.1 L512.6,1458.1 L512.5,1461.2 L512.4,1464.2 L512.4,1467.4 L512.5,1470.5 L512.7,1473.7 L512.7,1473.7 L512.6,1475.0 L512.2,1476.0 L511.6,1476.7 L510.8,1477.2 L509.7,1477.2 L508.6,1476.9 L508.3,1476.7 L507.2,1476.0 L506.1,1475.0 L505.1,1473.7 L504.3,1472.2 L503.7,1470.7 L503.5,1469.2 Z"/></clipPath>
<path class="lt" d="M507.0,1467.2 L506.8,1463.7 L506.7,1460.2 L506.7,1456.9 L506.8,1453.5 L506.9,1450.2 L507.1,1447.0 L507.4,1443.7 L507.7,1440.6 L508.2,1437.5 L508.7,1434.4 L508.7,1434.4 L509.0,1433.3 L509.7,1432.6 L510.6,1432.2 L511.6,1432.2 L512.8,1432.6 L513.9,1433.4 L514.2,1433.6 L515.3,1434.7 L516.3,1436.0 L517.0,1437.5 L517.5,1438.9 L517.8,1440.3 L517.7,1441.6 L517.7,1441.6 L517.2,1444.4 L516.9,1447.3 L516.5,1450.2 L516.3,1453.1 L516.1,1456.1 L516.0,1459.2 L515.9,1462.2 L515.9,1465.4 L516.0,1468.5 L516.2,1471.7 L516.2,1471.7 L516.1,1473.0 L515.7,1474.0 L515.1,1474.7 L514.3,1475.2 L513.2,1475.2 L512.1,1474.9 L511.8,1474.7 L510.7,1474.0 L509.6,1473.0 L508.6,1471.7 L507.8,1470.2 L507.2,1468.7 L507.0,1467.2 Z" clip-path="url(#slot138)"/>
<path class="l" d="M537.5,1561.5 L531.0,1547.6 L525.6,1533.5 L521.4,1519.4 L518.5,1505.6 L516.8,1492.1 L516.5,1479.3 L517.5,1467.3 L519.8,1456.3 L523.4,1446.5 L528.2,1437.9 L534.1,1430.8 L541.2,1425.2 L549.1,1421.2 L558.0,1418.8 L567.5,1418.2 L577.6,1419.3 L588.2,1422.1 L599.0,1426.5 L609.9,1432.6 L620.8,1440.1 L631.5,1449.0 L641.8,1459.2 L651.6,1470.5 L660.7,1482.7"/>
<path class="l" d="M541.7,1549.5 L537.0,1538.0 L533.1,1526.5 L530.3,1515.1 L528.3,1503.9 L527.4,1493.1 L527.5,1482.9 L528.6,1473.3 L530.6,1464.5 L533.7,1456.5 L537.6,1449.6 L542.5,1443.7 L548.1,1439.0 L554.5,1435.5 L561.5,1433.3 L569.2,1432.3 L577.2,1432.6 L585.7,1434.3 L594.4,1437.2 L603.3,1441.3 L612.2,1446.6 L621.1,1453.1 L629.7,1460.5 L638.1,1468.9 L646.1,1478.2"/>
<path class="lt" d="M539.9,1531.9 L537.1,1522.3 L535.0,1512.8 L533.6,1503.5 L533.0,1494.5 L533.2,1486.0 L534.1,1477.9 L535.8,1470.5 L538.2,1463.7 L541.3,1457.6 L545.1,1452.4 L549.5,1448.0 L554.5,1444.4 L560.1,1441.9 L566.1,1440.2 L572.5,1439.6 L579.3,1439.9 L586.4,1441.2 L593.7,1443.5 L601.1,1446.7 L608.6,1450.9 L616.1,1455.9 L623.4,1461.7 L630.6,1468.2 L637.5,1475.5"/>
<path class="w" d="M638.0,1476.0L647.3,1472.0L666.0,1514.7Q671.3,1522.7 676.7,1525.3Q683.3,1525.3 687.3,1522.7Q694.0,1528.0 694.0,1534.7Q693.3,1541.3 686.0,1544.0L672.7,1550.7L671.3,1541.3Q663.3,1536.0 662.0,1533.3L660.7,1522.7L655.3,1514.7L656.7,1510.7Z"/>
<path class="lt" d="M644.7,1477.3L663.3,1516.0Q668.7,1525.3 675.3,1528.7"/>
<ellipse class="l" cx="676.7" cy="1536.0" rx="4.4" ry="6.7" transform="rotate(-15.0 676.7 1536.0)"/>
<ellipse class="w" cx="683.3" cy="1502.7" rx="4.7" ry="6.9" transform="rotate(-15.0 683.3 1502.7)"/>
<path class="l" d="M674.0,1484.0L675.3,1490.7L672.7,1493.3L674.0,1504.0Q676.7,1512.7 680.7,1514.7L690.0,1514.7L694.0,1506.7L714.0,1502.7"/>
<path class="l" d="M680.7,1457.3L696.7,1484.0" style="stroke-width:2.4"/>
<path class="l" d="M623.3,1497.3Q639.3,1520.0 648.7,1544.0Q651.3,1560.0 646.0,1572.0"/>
<path class="l" d="M594.0,1530.7Q600.7,1548.0 614.0,1560.0Q628.7,1572.0 642.7,1573.3"/>
<path class="l" d="M584.7,1533.3Q591.3,1554.7 607.3,1573.3Q623.3,1585.3 639.3,1590.7Q655.3,1598.7 671.3,1601.3L680.7,1598.7"/>
<path class="l" d="M580.7,1552.0Q590.0,1574.7 610.0,1597.3Q632.7,1613.3 660.7,1618.7Q676.7,1619.3 687.3,1614.7"/>
<path class="l" d="M631.3,1625.3Q644.7,1634.0 663.3,1636.0Q676.7,1633.3 684.7,1620.0L686.0,1608.0"/>
<path class="l" d="M570.0,1574.7Q583.3,1601.3 603.3,1624.0Q623.3,1638.0 650.0,1644.0Q668.7,1643.3 680.7,1638.7"/>
<path class="lt" d="M596.7,1625.3L594.0,1632.0M614.0,1616.0L617.3,1624.7"/>
<path class="l" d="M638.0,1601.3L662.0,1593.3M695.3,1618.7L722.0,1604.0M570.0,1557.3L618.0,1530.7M638.0,1498.7L682.0,1474.7"/>
<path class="w" d="M638.7,1518.3Q635.3,1520.3 636.0,1524.3Q638.0,1526.9 640.7,1525.6L646.7,1522.3Q647.3,1518.3 644.0,1516.3Z"/>
<ellipse class="lt" cx="638.3" cy="1522.3" rx="2.4" ry="3.5" transform="rotate(-15.0 638.3 1522.3)"/>
<path class="w" d="M615.3,1580.0Q612.0,1582.0 612.7,1586.0Q614.7,1588.7 617.3,1587.3L623.3,1584.0Q624.0,1580.0 620.7,1578.0Z"/>
<ellipse class="lt" cx="614.9" cy="1584.0" rx="2.4" ry="3.5" transform="rotate(-15.0 614.9 1584.0)"/>
<path class="w" d="M644.0,1568.0Q640.7,1570.0 641.3,1574.0Q643.3,1576.7 646.0,1575.3L652.0,1572.0Q652.7,1568.0 649.3,1566.0Z"/>
<ellipse class="lt" cx="643.6" cy="1572.0" rx="2.4" ry="3.5" transform="rotate(-15.0 643.6 1572.0)"/>
<path class="w" d="M651.3,1562.7L663.3,1557.3Q668.0,1557.3 669.3,1562.7L674.0,1580.0L672.7,1600.0L667.3,1598.7Z"/>
<ellipse class="l" cx="663.3" cy="1572.0" rx="5.1" ry="8.0" transform="rotate(-15.0 663.3 1572.0)"/>
<path class="l" d="M692.7,1541.3Q694.0,1560.0 695.3,1573.3Q698.7,1588.0 703.3,1600.0L715.3,1652.0"/>
<path class="l" d="M686.0,1544.0Q687.3,1573.3 690.0,1586.7L687.3,1602.7L691.3,1604.7L703.3,1646.7"/>
<path class="lt" d="M676.7,1596.7L682.0,1598.7L690.0,1604.0"/>
<path class="w" d="M540.7,1580.0Q542.0,1577.6 547.3,1578.7L562.0,1597.3Q561.3,1599.3 558.7,1598.7L554.0,1596.0L541.3,1584.7Z"/>
<path class="l" d="M549.3,1581.3L559.3,1596.0M555.3,1578.7L567.3,1593.3" style="stroke-width:2.6"/>
<path class="l" d="M530.0,1572.0Q535.3,1584.0 546.0,1598.7Q554.0,1610.7 564.7,1618.7"/>
<path class="w" d="M557.3,1602.0L572.7,1596.0Q576.0,1597.3 576.7,1600.0L591.3,1632.0L588.7,1633.3L564.7,1617.3Q559.3,1612.0 557.3,1602.0Z"/>
<ellipse class="l" cx="570.0" cy="1608.0" rx="4.5" ry="6.9" transform="rotate(-15.0 570.0 1608.0)"/>
<path class="l" d="M559.3,1565.3Q570.0,1585.3 591.3,1606.7Q618.0,1626.7 650.0,1637.3L674.0,1639.3"/>
<path class="l" d="M595.3,1625.3L623.3,1636.0Q631.3,1640.0 636.7,1645.3M587.3,1636.0Q588.7,1642.7 596.7,1650.7Q607.3,1658.7 619.3,1662.7M587.3,1636.0L592.7,1633.3L596.7,1625.3"/>
<path class="w" d="M596.7,1636.0Q598.7,1634.0 603.3,1636.0Q612.7,1644.0 618.0,1652.0L619.3,1660.0L614.0,1657.3L600.7,1644.0Z"/>
<path class="l" d="M599.3,1636.3L614.0,1646.9" style="stroke-width:2.6"/>
<path class="lt" d="M614.0,1616.0L618.0,1624.7"/>
<path class="w" d="M623.3,1660.0L631.3,1656.0L635.3,1657.3L636.7,1670.7L630.0,1674.7L626.0,1670.7Z"/>
<ellipse class="l" cx="630.0" cy="1665.3" rx="3.5" ry="5.9" transform="rotate(-15.0 630.0 1665.3)"/>
<path class="w" d="M473.2,1493.6L582.0,1443.2L598.0,1447.2L631.6,1484.8L602.8,1504.0L602.8,1516.8L569.2,1529.6L553.2,1524.8L526.0,1536.0L530.8,1552.0L503.6,1565.6Q498.8,1564.8 497.2,1560.0L476.4,1516.8L479.6,1515.2L473.2,1493.6Z"/>
<path class="k" d="M472.9,1493.9Q518.0,1463.7 582.0,1442.9L472.9,1493.9Z"/>
<path class="w" d="M486.8,1487.2L538.0,1467.5Q541.2,1468.0 542.0,1471.2L554.8,1512.8Q554.5,1516.0 551.6,1517.1L504.4,1534.4Q498.8,1534.7 496.4,1530.4L482.5,1494.4Q482.0,1489.6 486.8,1487.2Z"/>
<path class="l" d="M479.6,1491.2Q477.2,1494.4 478.8,1499.2L494.0,1534.4Q498.0,1540.0 504.4,1538.4L553.2,1520.0"/>
<path class="lt" d="M488.9,1505.6L500.1,1520.8" style="stroke-width:1.4"/>
<path class="lt" d="M492.1,1504.5L503.0,1519.8" style="stroke-width:1.4"/>
<path class="lt" d="M495.3,1503.2L505.8,1518.9" style="stroke-width:1.4"/>
<path class="lt" d="M498.5,1502.1L508.6,1517.9" style="stroke-width:1.4"/>
<path class="lt" d="M501.7,1500.8L511.4,1517.0" style="stroke-width:1.4"/>
<path class="lt" d="M504.9,1499.7L514.3,1516.0" style="stroke-width:1.4"/>
<path class="lt" d="M508.1,1498.6L517.2,1515.0" style="stroke-width:1.4"/>
<path class="lt" d="M511.3,1497.3L520.1,1514.1" style="stroke-width:1.4"/>
<path class="lt" d="M514.5,1496.2L522.8,1513.1" style="stroke-width:1.4"/>
<path class="lt" d="M517.7,1494.9L525.7,1512.2" style="stroke-width:1.4"/>
<path class="lt" d="M520.9,1493.8L528.6,1511.2" style="stroke-width:1.4"/>
<path class="lt" d="M524.1,1492.6L531.4,1510.2" style="stroke-width:1.4"/>
<path class="lt" d="M527.3,1491.4L534.3,1509.3" style="stroke-width:1.4"/>
<path class="lt" d="M530.5,1490.2L537.0,1508.3" style="stroke-width:1.4"/>
<path class="lt" d="M533.7,1489.0L539.9,1507.4" style="stroke-width:1.4"/>
<path class="lt" d="M536.9,1487.8L542.8,1506.4" style="stroke-width:1.4"/>
<path class="lt" d="M540.1,1486.7L545.7,1505.4" style="stroke-width:1.4"/>
<path class="lt" d="M543.3,1485.4L548.6,1504.5" style="stroke-width:1.4"/>
<path class="w" d="M552.4,1464.0L582.0,1447.2L631.6,1484.8L602.8,1504.0L582.0,1512.0L574.0,1492.8L566.0,1481.6L559.6,1484.8Z"/>
<path class="l" d="M554.8,1462.7Q577.2,1479.4 587.6,1509.6" style="stroke-width:1.3"/>
<path class="l" d="M557.5,1461.1Q580.7,1477.4 591.9,1507.2" style="stroke-width:1.3"/>
<path class="l" d="M560.2,1459.7Q584.2,1475.5 596.2,1504.8" style="stroke-width:1.3"/>
<path class="l" d="M563.0,1458.1Q587.8,1473.4 600.6,1502.2" style="stroke-width:1.3"/>
<path class="l" d="M565.7,1456.5Q591.3,1471.5 604.9,1499.8" style="stroke-width:1.3"/>
<path class="l" d="M568.4,1455.0Q594.8,1469.4 609.2,1497.4" style="stroke-width:1.3"/>
<path class="l" d="M571.1,1453.4Q598.3,1467.5 613.5,1495.0" style="stroke-width:1.3"/>
<path class="l" d="M573.8,1451.8Q601.8,1465.4 617.8,1492.6" style="stroke-width:1.3"/>
<path class="l" d="M576.6,1450.2Q605.4,1463.5 622.2,1490.1" style="stroke-width:1.3"/>
<path class="l" d="M579.3,1448.8Q608.9,1461.4 626.5,1487.7" style="stroke-width:1.3"/>
<path class="l" d="M582.0,1447.2Q612.4,1459.5 630.8,1485.3" style="stroke-width:1.3"/>
<path class="w" d="M546.8,1489.6L564.4,1481.6L572.4,1492.8L582.0,1512.0L601.2,1507.2L602.8,1516.8L569.2,1529.6L566.0,1523.2Z"/>
<path class="l" d="M564.4,1481.6L567.6,1491.2L580.4,1515.2M553.2,1489.6L567.6,1526.4"/>
<ellipse class="w" cx="582.0" cy="1496.0" rx="8.3" ry="9.3" transform="rotate(-20.0 582.0 1496.0)"/>
<ellipse class="lt" cx="580.7" cy="1497.0" rx="6.7" ry="7.7" transform="rotate(-20.0 580.7 1497.0)"/>
<path class="lt" d="M575.6,1494.4L582.0,1502.4M574.0,1500.0L580.4,1495.2"/>
<path class="l" d="M526.0,1536.0L553.2,1524.8L559.6,1542.4L553.2,1545.6L580.4,1550.4L618.8,1529.6"/>
<path class="l" d="M527.6,1539.2L550.0,1529.6M553.2,1545.6L562.8,1564.8L492.4,1601.6"/>
<path class="l" d="M516.4,1563.2L522.8,1572.8L540.4,1564.8L545.2,1568.0L559.6,1600.0"/>
<path class="l" d="M566.0,1529.6L572.4,1539.2L598.0,1526.4L596.4,1518.4"/>
<path class="l" d="M477.2,1518.4L480.4,1536.0L486.0,1548.8L496.4,1552.0M479.6,1531.2L483.6,1532.0M481.2,1537.6L486.0,1538.4"/>
<path class="l" d="M496.4,1552.0L499.6,1561.6L504.4,1564.0"/>
<path class="l" d="M446.7,1494.1L506.7,1460.0"/>
<path class="l" d="M637.6,1350.0L637.6,1499.6L681.6,1474.8"/>
<path d="M736.0,1642.8Q748.8,1660.4 746.4,1676.4Q740.8,1694.0 720.0,1702.8L699.2,1711.6" fill="none" stroke="#000" stroke-width="15.5" stroke-linecap="butt" stroke-linejoin="round"/><path d="M736.0,1642.8Q748.8,1660.4 746.4,1676.4Q740.8,1694.0 720.0,1702.8L699.2,1711.6" fill="none" stroke="#fff" stroke-width="12.5" stroke-linecap="butt" stroke-linejoin="round"/>
<path class="w" d="M636.8,1654.0L683.2,1633.2L688.0,1634.8L696.0,1650.8L720.0,1650.8Q729.6,1654.0 732.5,1663.6Q732.0,1674.8 726.4,1678.0L713.6,1684.4L696.0,1692.4L649.6,1666.8L643.2,1665.2Z"/>
<path class="l" d="M646.4,1654.0Q647.2,1662.0 652.8,1665.2L681.6,1653.2L688.0,1636.4M696.0,1650.8L704.0,1666.8"/>
<path class="w" d="M624.0,1660.4L628.8,1657.2L636.8,1654.0L643.2,1665.2L636.8,1670.0L630.4,1673.2L625.6,1670.0Z"/>
<ellipse class="l" cx="630.4" cy="1664.9" rx="3.5" ry="5.1" transform="rotate(-15.0 630.4 1664.9)"/>
<path class="w" d="M596.8,1703.6L673.6,1666.8L678.4,1673.2L688.0,1692.4L696.0,1694.0L608.0,1734.0Z"/>
<path class="l" d="M635.2,1692.4L670.4,1673.2M641.6,1708.4L678.4,1687.6M625.6,1700.4L629.6,1710.0"/>
<path class="k" d="M618.4,1693.2L635.2,1682.8L636.8,1685.2L624.0,1694.0Z"/>
<path class="w" d="M606.4,1734.8L635.2,1721.2L696.0,1694.0L707.2,1713.2L620.8,1762.8Z"/>
<path class="l" d="M635.2,1721.2L646.7,1747.8M646.4,1717.2L657.0,1742.0"/>
<path class="l" d="M630.4,1756.4Q628.8,1750.0 632.8,1749.2Q636.0,1750.8 635.2,1754.8"/>
<path class="w" d="M684.8,1704.4L694.4,1702.0Q697.6,1703.9 694.4,1706.5L684.8,1709.2Q682.4,1706.8 684.8,1704.4ZM689.6,1713.2L699.2,1710.8Q701.6,1713.2 699.2,1715.1L690.4,1718.0Q688.0,1715.6 689.6,1713.2Z"/>
<ellipse class="w" cx="696.0" cy="1673.2" rx="15.2" ry="16.8" transform="rotate(-25.0 696.0 1673.2)"/>
<ellipse class="w" cx="692.8" cy="1674.8" rx="11.2" ry="12.5" transform="rotate(-25.0 692.8 1674.8)"/>
<ellipse class="lt" cx="691.5" cy="1675.6" rx="9.0" ry="10.2" transform="rotate(-25.0 691.5 1675.6)"/>
<path class="lt" d="M685.6,1674.0L692.8,1682.8M686.4,1679.6L690.4,1674.0"/>
<path class="l" d="M722.4,1710.8L722.4,1762.8"/>
<ellipse class="w" cx="415.4" cy="1646.0" rx="135.0" ry="77.9" transform="rotate(60.0 415.4 1646.0)"/>
<path d="M278.6,1569.1 L347.9,1529.1 L482.9,1762.9 L413.6,1802.9 Z" fill="#fff" stroke="none"/><path class="l" d="M278.6,1569.1 L347.9,1529.1 M413.6,1802.9 L482.9,1762.9"/>
<ellipse class="w" cx="346.1" cy="1686.0" rx="135.0" ry="77.9" transform="rotate(60.0 346.1 1686.0)"/>
<ellipse class="l" cx="342.1" cy="1688.3" rx="124.0" ry="71.5" transform="rotate(60.0 342.1 1688.3)"/>
<path class="w" d="M460.3,1759.2L478.9,1748.0L480.8,1753.6Q471.5,1771.3 450.9,1788.1Q437.9,1799.3 426.7,1805.9L423.9,1799.7Q441.6,1790.0 452.8,1775.1Q458.4,1765.7 460.3,1759.2Z"/>
<path class="l" d="M460.3,1759.2L463.6,1763.5L480.4,1753.2M463.6,1763.5Q458.4,1776.9 445.3,1789.1Q436.0,1796.5 425.2,1802.7"/>
<ellipse class="l" cx="348.3" cy="1613.6" rx="9.0" ry="5.2" transform="rotate(60.0 348.3 1613.6)"/>
<ellipse class="l" cx="373.5" cy="1657.5" rx="12.0" ry="6.9" transform="rotate(60.0 373.5 1657.5)"/>
<path class="lt" d="M372.4,1646.1 L373.1,1646.2 L373.9,1646.4 L374.7,1646.7 L375.5,1647.1 L376.3,1647.5 L377.1,1648.1 L377.9,1648.8 L378.6,1649.5 L379.3,1650.3 L380.0,1651.2 L380.7,1652.1 L381.3,1653.1 L381.8,1654.1 L382.3,1655.1 L382.7,1656.1 L383.0,1657.2 L383.3,1658.2 L383.5,1659.2 L383.6,1660.2 L383.6,1661.1 L383.5,1662.0 L383.4,1662.8 L383.2,1663.6 L382.9,1664.3"/>
<ellipse class="l" cx="398.7" cy="1731.2" rx="13.5" ry="7.8" transform="rotate(60.0 398.7 1731.2)"/>
<path class="lt" d="M397.1,1718.5 L398.0,1718.6 L398.9,1718.8 L399.7,1719.2 L400.6,1719.6 L401.5,1720.2 L402.4,1720.8 L403.3,1721.5 L404.2,1722.4 L405.0,1723.3 L405.8,1724.3 L406.5,1725.3 L407.2,1726.4 L407.8,1727.5 L408.3,1728.7 L408.8,1729.8 L409.1,1731.0 L409.4,1732.1 L409.6,1733.3 L409.8,1734.4 L409.8,1735.4 L409.7,1736.4 L409.5,1737.4 L409.3,1738.2 L408.9,1739.0"/>
<ellipse class="l" cx="387.5" cy="1758.3" rx="13.0" ry="7.5" transform="rotate(60.0 387.5 1758.3)"/>
<path class="lt" d="M386.1,1746.1 L386.9,1746.2 L387.7,1746.4 L388.6,1746.7 L389.4,1747.1 L390.3,1747.6 L391.2,1748.2 L392.0,1749.0 L392.9,1749.8 L393.6,1750.6 L394.4,1751.6 L395.1,1752.6 L395.7,1753.6 L396.3,1754.7 L396.8,1755.8 L397.3,1756.9 L397.6,1758.0 L397.9,1759.2 L398.1,1760.2 L398.2,1761.3 L398.2,1762.3 L398.2,1763.3 L398.0,1764.2 L397.8,1765.0 L397.4,1765.7"/>
<ellipse class="l" cx="364.1" cy="1765.7" rx="13.0" ry="7.5" transform="rotate(60.0 364.1 1765.7)"/>
<path class="lt" d="M362.7,1753.5 L363.5,1753.6 L364.3,1753.8 L365.2,1754.1 L366.0,1754.5 L366.9,1755.0 L367.8,1755.6 L368.6,1756.4 L369.5,1757.2 L370.2,1758.0 L371.0,1759.0 L371.7,1760.0 L372.3,1761.0 L372.9,1762.1 L373.4,1763.2 L373.9,1764.3 L374.2,1765.4 L374.5,1766.6 L374.7,1767.6 L374.8,1768.7 L374.8,1769.7 L374.8,1770.7 L374.6,1771.6 L374.4,1772.4 L374.0,1773.1"/>
<ellipse class="l" cx="306.3" cy="1723.7" rx="12.0" ry="6.9" transform="rotate(60.0 306.3 1723.7)"/>
<path class="lt" d="M305.2,1712.3 L305.9,1712.4 L306.7,1712.6 L307.5,1712.9 L308.3,1713.3 L309.1,1713.7 L309.9,1714.3 L310.7,1715.0 L311.4,1715.7 L312.1,1716.5 L312.8,1717.4 L313.5,1718.3 L314.1,1719.3 L314.6,1720.3 L315.1,1721.3 L315.5,1722.3 L315.8,1723.4 L316.1,1724.4 L316.3,1725.4 L316.4,1726.4 L316.4,1727.3 L316.3,1728.2 L316.2,1729.0 L316.0,1729.8 L315.7,1730.5"/>
<ellipse class="w" cx="335.2" cy="1692.0" rx="58.0" ry="33.5" transform="rotate(60.0 335.2 1692.0)"/>
<ellipse class="l" cx="332.5" cy="1693.5" rx="52.5" ry="30.3" transform="rotate(60.0 332.5 1693.5)"/>
<ellipse class="l" cx="331.5" cy="1694.0" rx="49.5" ry="28.6" transform="rotate(60.0 331.5 1694.0)"/>
<ellipse class="lt" cx="331.5" cy="1694.0" rx="47.0" ry="27.1" transform="rotate(60.0 331.5 1694.0)"/>
<clipPath id="hubclip"><ellipse cx="331.5" cy="1694" rx="46.5" ry="26.8" transform="rotate(60 331.5 1694)"/></clipPath>
<g clip-path="url(#hubclip)">
<ellipse class="lt" cx="334.4" cy="1692.3" rx="46.5" ry="26.8" transform="rotate(60.0 334.4 1692.3)"/>
<ellipse class="lt" cx="337.3" cy="1690.6" rx="46.5" ry="26.8" transform="rotate(60.0 337.3 1690.6)"/>
<ellipse class="lt" cx="340.2" cy="1688.9" rx="46.5" ry="26.8" transform="rotate(60.0 340.2 1688.9)"/>
<ellipse class="lt" cx="343.1" cy="1687.2" rx="46.5" ry="26.8" transform="rotate(60.0 343.1 1687.2)"/>
<ellipse class="lt" cx="346.0" cy="1685.5" rx="46.5" ry="26.8" transform="rotate(60.0 346.0 1685.5)"/>
<ellipse class="lt" cx="348.9" cy="1683.8" rx="46.5" ry="26.8" transform="rotate(60.0 348.9 1683.8)"/>
<ellipse class="w" cx="352.0" cy="1682.5" rx="30.0" ry="17.3" transform="rotate(60.0 352.0 1682.5)"/>
</g>
<path class="l" d="M245.6,1744.3L327.7,1696.7"/>
<path class="l" d="M300.8,1503.5L300.8,1556.0"/>
<ellipse class="w" cx="215.3" cy="1767.1" rx="37.0" ry="21.3" transform="rotate(60.0 215.3 1767.1)"/>
<ellipse class="w" cx="210.8" cy="1769.7" rx="35.0" ry="20.2" transform="rotate(60.0 210.8 1769.7)"/>
<path class="w" d="M176.6,1758.7L190.1,1751.1L207.9,1748.5L223.7,1770.4L224.7,1790.0L209.7,1798.4L193.4,1801.7L175.7,1780.7Z"/>
<path class="l" d="M176.6,1758.7L195.7,1757.3L209.7,1777.9L209.7,1798.4M195.7,1757.3L207.9,1748.5M209.7,1777.9L223.7,1770.4"/>
<ellipse class="l" cx="192.5" cy="1779.3" rx="16.1" ry="22.2" transform="rotate(-8.0 192.5 1779.3)"/>
<ellipse class="lt" cx="193.1" cy="1779.6" rx="14.0" ry="20.1" transform="rotate(-8.0 193.1 1779.6)"/>
<ellipse class="l" cx="193.9" cy="1779.9" rx="11.9" ry="17.7" transform="rotate(-8.0 193.9 1779.9)"/>
<path class="lt" d="M190.6,1764.6Q185.9,1780.7 203.2,1794.5"/>
<path class="lt" d="M193.9,1764.4Q190.1,1780.7 204.1,1793.4"/>
<path class="lt" d="M197.1,1764.2Q194.3,1780.7 205.1,1792.2"/>
<path class="lt" d="M200.4,1764.1Q198.5,1780.7 206.0,1791.1"/>
<path class="l" d="M193.4,1686.4L193.4,1740.0"/>
<ellipse class="w" cx="552.9" cy="1329.0" rx="7.3" ry="4.2" transform="rotate(60.0 552.9 1329.0)"/>
<path d="M523.3,1337.7 L549.3,1322.7 L556.6,1335.3 L530.6,1350.3 Z" fill="#fff" stroke="none"/><path class="l" d="M523.3,1337.7 L549.3,1322.7 M530.6,1350.3 L556.6,1335.3"/>
<path class="lt" d="M531.1,1333.2 L531.6,1333.0 L532.1,1332.8 L532.7,1332.9 L533.4,1333.0 L534.0,1333.2 L534.7,1333.5 L535.4,1334.0 L536.1,1334.5 L536.7,1335.1 L537.3,1335.8 L537.9,1336.6 L538.4,1337.4 L538.8,1338.2 L539.2,1339.1 L539.5,1340.0 L539.7,1340.8 L539.8,1341.7 L539.9,1342.5 L539.8,1343.2 L539.7,1343.9 L539.5,1344.5 L539.2,1345.1 L538.8,1345.5 L538.4,1345.8"/>
<path class="lt" d="M535.4,1330.7 L535.9,1330.5 L536.5,1330.3 L537.1,1330.4 L537.7,1330.5 L538.4,1330.7 L539.1,1331.0 L539.7,1331.5 L540.4,1332.0 L541.0,1332.6 L541.6,1333.3 L542.2,1334.1 L542.7,1334.9 L543.1,1335.7 L543.5,1336.6 L543.8,1337.5 L544.0,1338.3 L544.2,1339.2 L544.2,1340.0 L544.2,1340.7 L544.0,1341.4 L543.8,1342.0 L543.5,1342.6 L543.1,1343.0 L542.7,1343.3"/>
<path class="lt" d="M539.7,1328.2 L540.2,1328.0 L540.8,1327.8 L541.4,1327.9 L542.0,1328.0 L542.7,1328.2 L543.4,1328.5 L544.1,1329.0 L544.7,1329.5 L545.4,1330.1 L546.0,1330.8 L546.5,1331.6 L547.0,1332.4 L547.5,1333.2 L547.9,1334.1 L548.1,1335.0 L548.4,1335.8 L548.5,1336.7 L548.5,1337.5 L548.5,1338.2 L548.4,1338.9 L548.2,1339.5 L547.9,1340.1 L547.5,1340.5 L547.0,1340.8"/>
<path class="lt" d="M544.1,1325.7 L544.6,1325.5 L545.1,1325.3 L545.7,1325.4 L546.4,1325.5 L547.0,1325.7 L547.7,1326.0 L548.4,1326.5 L549.0,1327.0 L549.7,1327.6 L550.3,1328.3 L550.9,1329.1 L551.4,1329.9 L551.8,1330.7 L552.2,1331.6 L552.5,1332.5 L552.7,1333.3 L552.8,1334.2 L552.9,1335.0 L552.8,1335.7 L552.7,1336.4 L552.5,1337.0 L552.2,1337.6 L551.8,1338.0 L551.4,1338.3"/>
<path class="lt" d="M548.4,1323.2 L548.9,1323.0 L549.5,1322.8 L550.1,1322.9 L550.7,1323.0 L551.4,1323.2 L552.0,1323.5 L552.7,1324.0 L553.4,1324.5 L554.0,1325.1 L554.6,1325.8 L555.2,1326.6 L555.7,1327.4 L556.1,1328.2 L556.5,1329.1 L556.8,1330.0 L557.0,1330.8 L557.2,1331.7 L557.2,1332.5 L557.2,1333.2 L557.0,1333.9 L556.8,1334.5 L556.5,1335.1 L556.1,1335.5 L555.7,1335.8"/>
<ellipse class="w" cx="524.3" cy="1345.5" rx="15.8" ry="9.1" transform="rotate(60.0 524.3 1345.5)"/>
<ellipse class="lt" cx="523.3" cy="1346.1" rx="15.2" ry="8.8" transform="rotate(60.0 523.3 1346.1)"/>
<path d="M511.0,1336.4 L516.4,1331.8 L532.2,1359.2 L525.6,1361.6 Z" fill="#fff" stroke="none"/><path class="l" d="M511.0,1336.4 L516.4,1331.8 M525.6,1361.6 L532.2,1359.2"/>
<ellipse class="w" cx="518.3" cy="1349.0" rx="14.6" ry="8.4" transform="rotate(60.0 518.3 1349.0)"/>
<path class="lt" d="M515.8,1347.5 l4,-2.2 l1.2,3 l3.2,1.5 l-3.5,1.2 l0.8,4 l-3.6,-2.6 l-3.8,1.6 l2,-3.3 l-2.6,-3.2 l3.6,0.6 Z"/>
<path class="lt" d="M513.8,1347.9 l6,3.6 M519.0,1346.9 l-3.4,6.2"/>
<path class="l" d="M519.2,1278.7L519.2,1333.3"/>
<path class="l" d="M568.8,1319.5L637.3,1281.3L637.3,1499.5L680.0,1476.0"/>
<ellipse class="w" cx="368.9" cy="1394.9" rx="7.3" ry="4.2" transform="rotate(60.0 368.9 1394.9)"/>
<path d="M339.3,1403.6 L365.3,1388.6 L372.6,1401.2 L346.6,1416.2 Z" fill="#fff" stroke="none"/><path class="l" d="M339.3,1403.6 L365.3,1388.6 M346.6,1416.2 L372.6,1401.2"/>
<path class="lt" d="M347.1,1399.1 L347.6,1398.9 L348.1,1398.7 L348.7,1398.8 L349.4,1398.9 L350.0,1399.1 L350.7,1399.4 L351.4,1399.9 L352.1,1400.4 L352.7,1401.0 L353.3,1401.7 L353.9,1402.5 L354.4,1403.3 L354.8,1404.1 L355.2,1405.0 L355.5,1405.9 L355.7,1406.7 L355.8,1407.6 L355.9,1408.4 L355.8,1409.1 L355.7,1409.8 L355.5,1410.4 L355.2,1411.0 L354.8,1411.4 L354.4,1411.7"/>
<path class="lt" d="M351.4,1396.6 L351.9,1396.4 L352.5,1396.2 L353.1,1396.3 L353.7,1396.4 L354.4,1396.6 L355.1,1396.9 L355.7,1397.4 L356.4,1397.9 L357.0,1398.5 L357.6,1399.2 L358.2,1400.0 L358.7,1400.8 L359.1,1401.6 L359.5,1402.5 L359.8,1403.4 L360.0,1404.2 L360.2,1405.1 L360.2,1405.9 L360.2,1406.6 L360.0,1407.3 L359.8,1407.9 L359.5,1408.5 L359.1,1408.9 L358.7,1409.2"/>
<path class="lt" d="M355.7,1394.1 L356.2,1393.9 L356.8,1393.7 L357.4,1393.8 L358.0,1393.9 L358.7,1394.1 L359.4,1394.4 L360.1,1394.9 L360.7,1395.4 L361.4,1396.0 L362.0,1396.7 L362.5,1397.5 L363.0,1398.3 L363.5,1399.1 L363.9,1400.0 L364.1,1400.9 L364.4,1401.7 L364.5,1402.6 L364.5,1403.4 L364.5,1404.1 L364.4,1404.8 L364.2,1405.4 L363.9,1406.0 L363.5,1406.4 L363.0,1406.7"/>
<path class="lt" d="M360.1,1391.6 L360.6,1391.4 L361.1,1391.2 L361.7,1391.3 L362.4,1391.4 L363.0,1391.6 L363.7,1391.9 L364.4,1392.4 L365.0,1392.9 L365.7,1393.5 L366.3,1394.2 L366.9,1395.0 L367.4,1395.8 L367.8,1396.6 L368.2,1397.5 L368.5,1398.4 L368.7,1399.2 L368.8,1400.1 L368.9,1400.9 L368.8,1401.6 L368.7,1402.3 L368.5,1402.9 L368.2,1403.5 L367.8,1403.9 L367.4,1404.2"/>
<path class="lt" d="M364.4,1389.1 L364.9,1388.9 L365.5,1388.7 L366.1,1388.8 L366.7,1388.9 L367.4,1389.1 L368.0,1389.4 L368.7,1389.9 L369.4,1390.4 L370.0,1391.0 L370.6,1391.7 L371.2,1392.5 L371.7,1393.3 L372.1,1394.1 L372.5,1395.0 L372.8,1395.9 L373.0,1396.7 L373.2,1397.6 L373.2,1398.4 L373.2,1399.1 L373.0,1399.8 L372.8,1400.4 L372.5,1401.0 L372.1,1401.4 L371.7,1401.7"/>
<ellipse class="w" cx="340.3" cy="1411.4" rx="15.8" ry="9.1" transform="rotate(60.0 340.3 1411.4)"/>
<ellipse class="lt" cx="339.3" cy="1412.0" rx="15.2" ry="8.8" transform="rotate(60.0 339.3 1412.0)"/>
<path d="M327.0,1402.3 L332.4,1397.7 L348.2,1425.1 L341.6,1427.5 Z" fill="#fff" stroke="none"/><path class="l" d="M327.0,1402.3 L332.4,1397.7 M341.6,1427.5 L348.2,1425.1"/>
<ellipse class="w" cx="334.3" cy="1414.9" rx="14.6" ry="8.4" transform="rotate(60.0 334.3 1414.9)"/>
<path class="lt" d="M331.8,1413.4 l4,-2.2 l1.2,3 l3.2,1.5 l-3.5,1.2 l0.8,4 l-3.6,-2.6 l-3.8,1.6 l2,-3.3 l-2.6,-3.2 l3.6,0.6 Z"/>
<path class="lt" d="M329.8,1413.8 l6,3.6 M335.0,1412.8 l-3.4,6.2"/>
<path class="l" d="M335.2,1346.1L335.2,1400.0"/>
<path class="l" d="M384.8,1386.1L446.7,1352.0L446.7,1494.1L506.7,1460.0"/>
<ellipse class="w" cx="538.4" cy="1808.3" rx="7.3" ry="4.2" transform="rotate(60.0 538.4 1808.3)"/>
<path d="M508.8,1817.0 L534.8,1802.0 L542.1,1814.6 L516.1,1829.6 Z" fill="#fff" stroke="none"/><path class="l" d="M508.8,1817.0 L534.8,1802.0 M516.1,1829.6 L542.1,1814.6"/>
<path class="lt" d="M516.6,1812.5 L517.1,1812.3 L517.6,1812.1 L518.2,1812.2 L518.9,1812.3 L519.5,1812.5 L520.2,1812.8 L520.9,1813.3 L521.6,1813.8 L522.2,1814.4 L522.8,1815.1 L523.4,1815.9 L523.9,1816.7 L524.3,1817.5 L524.7,1818.4 L525.0,1819.3 L525.2,1820.1 L525.3,1821.0 L525.4,1821.8 L525.3,1822.5 L525.2,1823.2 L525.0,1823.8 L524.7,1824.4 L524.3,1824.8 L523.9,1825.1"/>
<path class="lt" d="M520.9,1810.0 L521.4,1809.8 L522.0,1809.6 L522.6,1809.7 L523.2,1809.8 L523.9,1810.0 L524.6,1810.3 L525.2,1810.8 L525.9,1811.3 L526.5,1811.9 L527.1,1812.6 L527.7,1813.4 L528.2,1814.2 L528.6,1815.0 L529.0,1815.9 L529.3,1816.8 L529.5,1817.6 L529.7,1818.5 L529.7,1819.3 L529.7,1820.0 L529.5,1820.7 L529.3,1821.3 L529.0,1821.9 L528.6,1822.3 L528.2,1822.6"/>
<path class="lt" d="M525.2,1807.5 L525.7,1807.3 L526.3,1807.1 L526.9,1807.2 L527.5,1807.3 L528.2,1807.5 L528.9,1807.8 L529.6,1808.3 L530.2,1808.8 L530.9,1809.4 L531.5,1810.1 L532.0,1810.9 L532.5,1811.7 L533.0,1812.5 L533.4,1813.4 L533.6,1814.3 L533.9,1815.1 L534.0,1816.0 L534.0,1816.8 L534.0,1817.5 L533.9,1818.2 L533.7,1818.8 L533.4,1819.4 L533.0,1819.8 L532.5,1820.1"/>
<path class="lt" d="M529.6,1805.0 L530.1,1804.8 L530.6,1804.6 L531.2,1804.7 L531.9,1804.8 L532.5,1805.0 L533.2,1805.3 L533.9,1805.8 L534.5,1806.3 L535.2,1806.9 L535.8,1807.6 L536.4,1808.4 L536.9,1809.2 L537.3,1810.0 L537.7,1810.9 L538.0,1811.8 L538.2,1812.6 L538.3,1813.5 L538.4,1814.3 L538.3,1815.0 L538.2,1815.7 L538.0,1816.3 L537.7,1816.9 L537.3,1817.3 L536.9,1817.6"/>
<path class="lt" d="M533.9,1802.5 L534.4,1802.3 L535.0,1802.1 L535.6,1802.2 L536.2,1802.3 L536.9,1802.5 L537.5,1802.8 L538.2,1803.3 L538.9,1803.8 L539.5,1804.4 L540.1,1805.1 L540.7,1805.9 L541.2,1806.7 L541.6,1807.5 L542.0,1808.4 L542.3,1809.3 L542.5,1810.1 L542.7,1811.0 L542.7,1811.8 L542.7,1812.5 L542.5,1813.2 L542.3,1813.8 L542.0,1814.4 L541.6,1814.8 L541.2,1815.1"/>
<ellipse class="w" cx="509.8" cy="1824.8" rx="15.8" ry="9.1" transform="rotate(60.0 509.8 1824.8)"/>
<ellipse class="lt" cx="508.8" cy="1825.4" rx="15.2" ry="8.8" transform="rotate(60.0 508.8 1825.4)"/>
<path d="M496.5,1815.7 L501.9,1811.1 L517.7,1838.5 L511.1,1840.9 Z" fill="#fff" stroke="none"/><path class="l" d="M496.5,1815.7 L501.9,1811.1 M511.1,1840.9 L517.7,1838.5"/>
<ellipse class="w" cx="503.8" cy="1828.3" rx="14.6" ry="8.4" transform="rotate(60.0 503.8 1828.3)"/>
<path class="lt" d="M501.3,1826.8 l4,-2.2 l1.2,3 l3.2,1.5 l-3.5,1.2 l0.8,4 l-3.6,-2.6 l-3.8,1.6 l2,-3.3 l-2.6,-3.2 l3.6,0.6 Z"/>
<path class="lt" d="M499.3,1827.2 l6,3.6 M504.5,1826.2 l-3.4,6.2"/>
<path class="l" d="M515.3,1842.0L515.3,1891.7"/>
<path class="l" d="M553.3,1798.3L590.0,1778.3L590.0,1676.0L617.0,1661.6"/>
<g opacity="0.995">
<text class="t" x="1366.5 1380.1 1393.7 1407.3 1420.9" y="68.7" font-size="23" xml:space="preserve">E1810</text>
<text class="t" x="464.8 480.0 495.2 510.4 525.6 540.8 556.0 571.2 586.4 601.6 616.8 632.0" y="135.4" font-size="25" xml:space="preserve">Ref.Radiator</text>
<text class="t" x="623.0 638.1 653.2 668.3 683.4" y="223.2" font-size="25" xml:space="preserve">21119</text>
<text class="t" x="812.0 827.1 842.2 857.3 872.4" y="497.5" font-size="25" xml:space="preserve">92150</text>
<text class="t" x="830.2" y="303.3" font-size="24" xml:space="preserve">A</text>
<text class="t" x="1218.0 1233.0 1248.0 1263.0 1278.0 1293.0 1308.0 1323.0 1338.0 1353.0 1368.0 1383.0 1398.0 1413.0 1428.0 1443.0 1458.0" y="530.8" font-size="25" xml:space="preserve">Ref.Cylinder Head</text>
<text class="t" x="1279.0 1294.0 1309.0 1324.0 1339.0 1354.0 1369.0 1384.0 1399.0" y="560.5" font-size="25" xml:space="preserve">/Cylinder</text>
<text class="t" x="439.5 454.7 469.9 485.1 500.3 515.5 530.7 545.9 561.1 576.3 591.5 606.7 621.9 637.1 652.3 667.5 682.7 697.9 713.1" y="686.5" font-size="25" xml:space="preserve">Ref.Ignition Syste </text><text class="t" transform="translate(713.1,686.5) scale(0.72,1)" x="0" y="0" font-size="25">m</text>
<text class="t" x="1098.5 1113.6 1128.7 1143.8 1158.9" y="1081.6" font-size="25" xml:space="preserve">92171</text>
<text class="t" x="1229.0 1244.0 1259.0 1274.0 1289.0 1304.0 1319.0 1334.0 1349.0 1364.0 1379.0 1394.0 1409.0 1424.0 1439.0 1454.0 1469.0" y="1046.4" font-size="25" xml:space="preserve">Ref.Cylinder Head</text>
<text class="t" x="1290.0 1305.0 1320.0 1335.0 1350.0 1365.0 1380.0 1395.0 1410.0" y="1076.3" font-size="25" xml:space="preserve">/Cylinder</text>
<text class="t" x="480.0" y="1154.8" font-size="24" xml:space="preserve">A</text>
<text class="t" x="505.0 520.1 535.2" y="1276.2" font-size="25" xml:space="preserve">224</text>
<text class="t" x="320.5 335.6 350.7" y="1343.6" font-size="25" xml:space="preserve">224</text>
<text class="t" x="270.0 285.1 300.2 315.3 330.4" y="1500.8" font-size="25" xml:space="preserve">21007</text>
<text class="t" x="163.5 178.6 193.7 208.8 223.9" y="1684.2" font-size="25" xml:space="preserve">92015</text>
<text class="t" x="1099.0 1114.0 1129.0 1144.0 1159.0 1174.0 1189.0 1204.0 1219.0 1234.0 1249.0 1264.0 1279.0 1294.0" y="1431.8" font-size="25" xml:space="preserve">Ref.Crankshaft</text>
<text class="t" x="1174.0 1189.0 1204.0 1219.0 1234.0 1249.0 1264.0 1279.0 1294.0 1309.0" y="1461.6" font-size="25" xml:space="preserve">/Piston(s)</text>
<text class="t" x="1073.5 1088.6 1103.7 1118.8 1133.9" y="1598.5" font-size="25" xml:space="preserve">92038</text>
<text class="t" x="691.5 706.6 721.7 736.8 751.9" y="1784.2" font-size="25" xml:space="preserve">21003</text>
<text class="t" x="500.5 515.6 530.7" y="1915.0" font-size="25" xml:space="preserve">224</text>
<text class="tb" x="600" y="1930" font-size="26" textLength="300" lengthAdjust="spacingAndGlyphs">Rendered by LeadVenture, Inc.</text>
</g>
</svg>
</body></html>
